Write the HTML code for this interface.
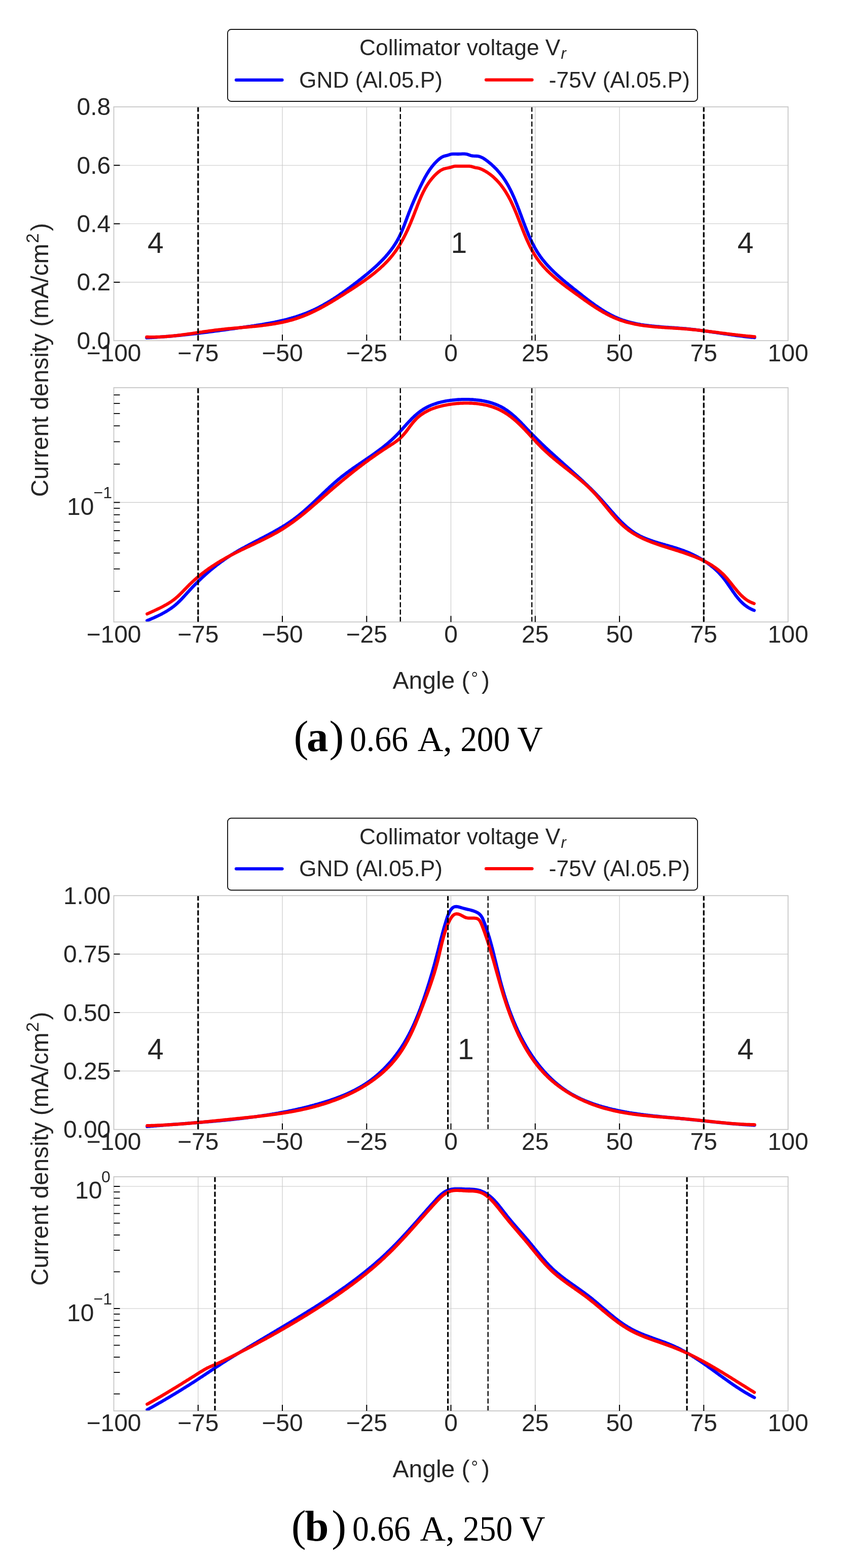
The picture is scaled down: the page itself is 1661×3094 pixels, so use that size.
<!DOCTYPE html>
<html><head><meta charset="utf-8"><title>Current density vs angle</title>
<style>
html,body{margin:0;padding:0;background:#fff;}
body{width:1661px;height:3094px;overflow:hidden;}
svg{display:block;}
.t{font-family:"Liberation Sans", Arial, Helvetica, sans-serif;font-size:48px;fill:#262626;}
.lg{font-family:"Liberation Sans", Arial, Helvetica, sans-serif;font-size:44.3px;fill:#262626;}
.an{font-family:"Liberation Sans", Arial, Helvetica, sans-serif;font-size:57px;fill:#262626;}
.cp{font-family:"Liberation Serif", "Times New Roman", serif;fill:#000;}
</style></head><body>
<svg xmlns="http://www.w3.org/2000/svg" width="1661" height="3094" viewBox="0 0 1661 3094">
<rect width="1661" height="3094" fill="#fff"/>
<rect x="449" y="58.0" width="927" height="142" rx="7" ry="7" fill="#fff" stroke="#151515" stroke-width="1.9"/>
<text x="709" y="109.2" class="lg">Collimator voltage V<tspan font-style="italic" font-size="31" dx="1" dy="7">r</tspan></text>
<line x1="466" y1="157.8" x2="556.5" y2="157.8" stroke="#0000ff" stroke-width="6.3" stroke-linecap="round"/>
<line x1="959" y1="157.6" x2="1049.5" y2="157.6" stroke="#ff0000" stroke-width="6.3" stroke-linecap="round"/>
<text x="590" y="172.8" class="lg">GND (Al.05.P)</text>
<text x="1082.8" y="172.8" class="lg">-75V (Al.05.P)</text>
<line x1="390.8" y1="210.8" x2="390.8" y2="672.2" stroke="#c8c8c8" stroke-width="1.15"/>
<line x1="557.0" y1="210.8" x2="557.0" y2="672.2" stroke="#c8c8c8" stroke-width="1.15"/>
<line x1="723.3" y1="210.8" x2="723.3" y2="672.2" stroke="#c8c8c8" stroke-width="1.15"/>
<line x1="889.5" y1="210.8" x2="889.5" y2="672.2" stroke="#c8c8c8" stroke-width="1.15"/>
<line x1="1055.8" y1="210.8" x2="1055.8" y2="672.2" stroke="#c8c8c8" stroke-width="1.15"/>
<line x1="1222.1" y1="210.8" x2="1222.1" y2="672.2" stroke="#c8c8c8" stroke-width="1.15"/>
<line x1="1388.3" y1="210.8" x2="1388.3" y2="672.2" stroke="#c8c8c8" stroke-width="1.15"/>
<line x1="224.5" y1="556.9" x2="1554.6" y2="556.9" stroke="#c8c8c8" stroke-width="1.15"/>
<line x1="224.5" y1="441.5" x2="1554.6" y2="441.5" stroke="#c8c8c8" stroke-width="1.15"/>
<line x1="224.5" y1="326.2" x2="1554.6" y2="326.2" stroke="#c8c8c8" stroke-width="1.15"/>
<path d="M289.4,666.5L291.7,666.4 294.0,666.3 296.3,666.2 298.6,666.1 300.9,665.9 303.2,665.8 305.5,665.7 307.8,665.5 310.1,665.4 312.4,665.2 314.7,665.1 317.0,664.9 319.3,664.7 321.5,664.6 323.8,664.4 326.1,664.2 328.4,664.0 330.7,663.9 332.9,663.7 335.2,663.5 337.5,663.3 339.8,663.1 342.1,662.9 344.3,662.7 346.6,662.5 348.9,662.2 351.1,662.0 353.4,661.8 355.7,661.6 358.0,661.3 360.2,661.1 362.5,660.9 364.8,660.6 367.0,660.4 369.3,660.2 371.6,659.9 373.8,659.7 376.1,659.4 378.4,659.1 380.6,658.9 382.9,658.6 385.1,658.4 387.4,658.1 389.7,657.8 391.9,657.6 394.2,657.3 396.5,657.0 398.7,656.7 401.0,656.4 403.2,656.2 405.5,655.9 407.8,655.6 410.0,655.3 412.3,655.0 414.5,654.7 416.8,654.4 419.1,654.1 421.3,653.8 423.6,653.5 425.8,653.2 428.1,652.9 430.4,652.6 432.6,652.3 434.9,652.0 437.2,651.7 439.4,651.4 441.7,651.1 443.9,650.8 446.2,650.5 448.5,650.1 450.7,649.8 453.0,649.5 455.3,649.2 457.5,648.9 459.8,648.6 462.1,648.3 464.3,647.9 466.6,647.6 468.9,647.3 471.2,647.0 473.4,646.7 475.7,646.3 478.0,646.0 480.3,645.7 482.5,645.4 484.8,645.1 487.1,644.7 489.4,644.4 491.6,644.1 493.9,643.8 496.2,643.4 498.5,643.1 500.7,642.8 503.0,642.4 505.3,642.1 507.6,641.7 509.8,641.4 512.1,641.0 514.4,640.6 516.6,640.3 518.9,639.9 521.2,639.5 523.4,639.1 525.7,638.7 528.0,638.3 530.2,637.9 532.5,637.5 534.7,637.1 537.0,636.7 539.2,636.2 541.5,635.8 543.7,635.3 545.9,634.8 548.2,634.4 550.4,633.9 552.6,633.4 554.9,632.9 557.1,632.4 559.3,631.8 561.5,631.3 563.7,630.7 565.9,630.2 568.1,629.6 570.3,629.0 572.5,628.4 574.7,627.8 576.9,627.1 579.1,626.5 581.2,625.8 583.4,625.2 585.5,624.5 587.7,623.8 589.9,623.1 592.0,622.3 594.1,621.6 596.3,620.8 598.4,620.0 600.5,619.2 602.6,618.4 604.7,617.6 606.8,616.7 608.9,615.9 611.0,615.0 613.1,614.1 615.1,613.1 617.2,612.2 619.2,611.2 621.3,610.3 623.3,609.3 625.4,608.2 627.4,607.2 629.4,606.2 631.4,605.1 633.4,604.1 635.4,603.0 637.4,601.9 639.4,600.7 641.4,599.6 643.4,598.5 645.4,597.3 647.3,596.1 649.3,595.0 651.2,593.8 653.2,592.6 655.1,591.3 657.1,590.1 659.0,588.9 660.9,587.6 662.9,586.4 664.8,585.1 666.7,583.8 668.6,582.5 670.5,581.2 672.4,579.9 674.3,578.6 676.2,577.3 678.1,575.9 680.0,574.6 681.8,573.2 683.7,571.9 685.6,570.5 687.4,569.1 689.3,567.8 691.2,566.4 693.0,565.0 694.9,563.6 696.7,562.2 698.5,560.8 700.4,559.4 702.2,558.0 704.0,556.6 705.9,555.2 707.7,553.7 709.5,552.3 711.3,550.9 713.1,549.5 714.9,548.0 716.8,546.6 718.6,545.2 720.3,543.7 722.1,542.3 723.9,540.8 725.7,539.3 727.4,537.9 729.2,536.4 730.9,534.9 732.7,533.4 734.4,531.9 736.1,530.4 737.8,528.9 739.5,527.4 741.2,525.9 742.9,524.3 744.5,522.8 746.2,521.2 747.8,519.6 749.4,518.0 751.0,516.4 752.6,514.8 754.2,513.2 755.8,511.6 757.3,509.9 758.8,508.3 760.4,506.6 761.8,504.9 763.3,503.2 764.8,501.5 766.2,499.8 767.6,498.1 769.0,496.3 770.4,494.5 771.8,492.7 773.1,490.9 774.4,489.1 775.7,487.3 777.0,485.4 778.2,483.5 779.4,481.6 780.6,479.7 781.8,477.8 783.0,475.8 784.1,473.8 785.2,471.8 786.3,469.8 787.3,467.8 788.3,465.7 789.3,463.7 790.3,461.6 791.3,459.5 792.2,457.3 793.1,455.2 794.0,453.1 794.9,450.9 795.8,448.7 796.6,446.6 797.5,444.4 798.3,442.2 799.1,440.0 800.0,437.8 800.8,435.6 801.6,433.4 802.4,431.3 803.2,429.1 804.0,426.9 804.9,424.7 805.7,422.6 806.5,420.4 807.3,418.3 808.2,416.1 809.0,414.0 809.9,411.9 810.7,409.8 811.6,407.6 812.4,405.5 813.3,403.5 814.2,401.4 815.1,399.3 816.0,397.2 816.9,395.1 817.8,393.1 818.7,391.0 819.6,388.9 820.5,386.9 821.4,384.8 822.4,382.8 823.3,380.7 824.3,378.7 825.2,376.6 826.2,374.6 827.2,372.5 828.1,370.5 829.1,368.4 830.1,366.4 831.1,364.3 832.1,362.3 833.1,360.2 834.2,358.2 835.2,356.1 836.3,354.1 837.3,352.1 838.4,350.1 839.5,348.1 840.7,346.1 841.8,344.1 843.0,342.1 844.2,340.2 845.4,338.3 846.7,336.4 847.9,334.5 849.3,332.6 850.6,330.8 852.0,328.9 853.4,327.2 854.9,325.4 856.3,323.7 857.9,322.0 859.5,320.3 861.1,318.7 862.7,317.1 864.4,315.5 866.2,314.0 868.0,312.6 869.9,311.2 871.8,310.0 873.8,309.0 875.8,308.2 878.0,307.6 880.1,307.1 882.3,306.6 884.4,305.9 886.6,305.2 888.7,304.5 890.9,304.1 893.1,303.9 895.4,303.8 897.7,303.8 899.9,303.9 902.2,304.0 904.6,304.0 906.9,303.9 909.2,303.8 911.5,303.7 913.8,303.6 916.1,303.6 918.3,303.8 920.5,304.1 922.7,304.7 924.8,305.5 926.9,306.3 929.0,307.0 931.2,307.5 933.5,307.7 935.7,307.8 938.0,307.8 940.3,308.0 942.6,308.2 944.8,308.6 946.9,309.3 949.1,310.1 951.1,311.0 953.1,312.1 955.1,313.3 957.0,314.6 959.0,316.0 960.8,317.4 962.7,318.8 964.5,320.3 966.2,321.7 968.0,323.2 969.7,324.7 971.4,326.3 973.1,327.8 974.7,329.4 976.3,331.0 977.9,332.6 979.5,334.2 981.0,335.9 982.5,337.6 983.9,339.2 985.4,341.0 986.8,342.7 988.2,344.4 989.5,346.2 990.9,348.0 992.2,349.8 993.5,351.7 994.7,353.5 996.0,355.4 997.2,357.3 998.4,359.2 999.5,361.1 1000.7,363.0 1001.8,365.0 1002.9,366.9 1004.0,368.9 1005.0,370.9 1006.1,372.9 1007.1,375.0 1008.1,377.0 1009.1,379.0 1010.1,381.1 1011.0,383.2 1012.0,385.3 1012.9,387.3 1013.9,389.4 1014.8,391.6 1015.7,393.7 1016.6,395.8 1017.4,397.9 1018.3,400.1 1019.2,402.2 1020.0,404.4 1020.9,406.5 1021.7,408.7 1022.5,410.9 1023.4,413.0 1024.2,415.2 1025.0,417.4 1025.8,419.6 1026.6,421.8 1027.5,423.9 1028.3,426.1 1029.1,428.3 1029.9,430.5 1030.7,432.7 1031.5,434.9 1032.3,437.0 1033.1,439.2 1034.0,441.4 1034.8,443.6 1035.6,445.7 1036.5,447.9 1037.3,450.1 1038.2,452.2 1039.0,454.4 1039.9,456.5 1040.8,458.6 1041.6,460.8 1042.5,462.9 1043.4,465.0 1044.4,467.1 1045.3,469.2 1046.2,471.3 1047.2,473.4 1048.2,475.4 1049.1,477.5 1050.1,479.5 1051.2,481.5 1052.2,483.5 1053.3,485.5 1054.3,487.5 1055.4,489.5 1056.5,491.5 1057.7,493.4 1058.8,495.3 1060.0,497.2 1061.2,499.1 1062.4,501.0 1063.7,502.8 1064.9,504.7 1066.2,506.5 1067.5,508.3 1068.9,510.1 1070.2,511.9 1071.6,513.6 1073.0,515.3 1074.5,517.1 1075.9,518.8 1077.4,520.5 1078.8,522.1 1080.3,523.8 1081.9,525.4 1083.4,527.1 1085.0,528.7 1086.5,530.3 1088.1,531.9 1089.7,533.5 1091.3,535.1 1093.0,536.7 1094.6,538.2 1096.3,539.8 1097.9,541.3 1099.6,542.8 1101.3,544.4 1103.0,545.9 1104.7,547.4 1106.5,548.9 1108.2,550.4 1109.9,551.9 1111.7,553.4 1113.5,554.8 1115.2,556.3 1117.0,557.8 1118.8,559.2 1120.6,560.7 1122.4,562.2 1124.2,563.6 1126.0,565.1 1127.8,566.5 1129.6,568.0 1131.4,569.4 1133.3,570.9 1135.1,572.3 1136.9,573.7 1138.7,575.2 1140.6,576.6 1142.4,578.1 1144.2,579.5 1146.0,581.0 1147.9,582.4 1149.7,583.9 1151.5,585.3 1153.4,586.7 1155.2,588.2 1157.1,589.6 1158.9,591.0 1160.8,592.4 1162.6,593.8 1164.5,595.2 1166.3,596.6 1168.2,597.9 1170.1,599.3 1171.9,600.7 1173.8,602.0 1175.7,603.3 1177.6,604.6 1179.5,605.9 1181.4,607.2 1183.3,608.5 1185.2,609.7 1187.1,611.0 1189.1,612.2 1191.0,613.4 1192.9,614.6 1194.9,615.8 1196.9,616.9 1198.8,618.0 1200.8,619.1 1202.8,620.2 1204.8,621.3 1206.8,622.3 1208.8,623.3 1210.8,624.3 1212.8,625.3 1214.9,626.2 1216.9,627.1 1219.0,628.0 1221.0,628.8 1223.1,629.6 1225.2,630.4 1227.3,631.2 1229.4,631.9 1231.5,632.6 1233.7,633.3 1235.8,634.0 1238.0,634.6 1240.1,635.2 1242.3,635.8 1244.5,636.4 1246.6,636.9 1248.8,637.4 1251.0,637.9 1253.2,638.4 1255.5,638.8 1257.7,639.3 1259.9,639.7 1262.1,640.1 1264.4,640.5 1266.6,640.8 1268.9,641.2 1271.1,641.5 1273.4,641.8 1275.7,642.1 1277.9,642.4 1280.2,642.7 1282.5,643.0 1284.8,643.2 1287.1,643.5 1289.4,643.7 1291.7,643.9 1294.0,644.1 1296.3,644.3 1298.6,644.5 1300.9,644.7 1303.2,644.9 1305.5,645.1 1307.8,645.3 1310.1,645.5 1312.4,645.6 1314.8,645.8 1317.1,645.9 1319.4,646.1 1321.7,646.3 1324.0,646.4 1326.3,646.6 1328.6,646.7 1331.0,646.9 1333.3,647.1 1335.6,647.2 1337.9,647.4 1340.2,647.6 1342.5,647.8 1344.8,647.9 1347.1,648.1 1349.4,648.3 1351.7,648.5 1353.9,648.7 1356.2,649.0 1358.5,649.2 1360.8,649.4 1363.1,649.7 1365.3,649.9 1367.6,650.2 1369.9,650.4 1372.1,650.7 1374.4,651.0 1376.6,651.3 1378.9,651.5 1381.1,651.8 1383.4,652.1 1385.6,652.4 1387.9,652.7 1390.1,653.0 1392.4,653.3 1394.6,653.7 1396.9,654.0 1399.1,654.3 1401.4,654.6 1403.6,654.9 1405.8,655.3 1408.1,655.6 1410.3,655.9 1412.6,656.2 1414.8,656.6 1417.0,656.9 1419.3,657.2 1421.5,657.6 1423.8,657.9 1426.0,658.2 1428.3,658.6 1430.5,658.9 1432.7,659.2 1435.0,659.5 1437.2,659.9 1439.5,660.2 1441.8,660.5 1444.0,660.8 1446.3,661.1 1448.5,661.5 1450.8,661.8 1453.1,662.1 1455.3,662.4 1457.6,662.7 1459.9,662.9 1462.1,663.2 1464.4,663.5 1466.7,663.8 1469.0,664.1 1471.3,664.3 1473.6,664.6 1475.9,664.8 1478.2,665.1 1480.5,665.3 1482.8,665.5 1485.1,665.7 1487.4,666.0 1488.6,666.1" fill="none" stroke="#0000ff" stroke-width="6.3" stroke-linecap="round" stroke-linejoin="round"/>
<path d="M289.5,665.0L291.8,665.0 294.2,665.1 296.5,665.1 298.8,665.1 301.1,665.1 303.4,665.1 305.6,665.1 307.9,665.0 310.2,664.9 312.5,664.9 314.7,664.8 317.0,664.7 319.2,664.6 321.5,664.4 323.7,664.3 326.0,664.1 328.2,664.0 330.4,663.8 332.7,663.6 334.9,663.4 337.1,663.2 339.3,663.0 341.5,662.8 343.7,662.5 345.9,662.3 348.1,662.1 350.3,661.8 352.5,661.5 354.7,661.3 356.9,661.0 359.1,660.7 361.3,660.4 363.5,660.1 365.7,659.8 367.9,659.5 370.1,659.2 372.3,658.9 374.5,658.6 376.6,658.3 378.8,658.0 381.0,657.7 383.2,657.3 385.4,657.0 387.6,656.7 389.7,656.4 391.9,656.0 394.1,655.7 396.3,655.4 398.5,655.1 400.7,654.7 402.9,654.4 405.1,654.1 407.3,653.8 409.5,653.5 411.7,653.2 413.9,652.9 416.1,652.6 418.3,652.3 420.5,652.0 422.7,651.7 424.9,651.4 427.1,651.1 429.3,650.9 431.6,650.6 433.8,650.3 436.0,650.1 438.3,649.8 440.5,649.6 442.7,649.4 445.0,649.1 447.2,648.9 449.5,648.7 451.7,648.5 454.0,648.3 456.2,648.1 458.5,647.9 460.8,647.7 463.0,647.5 465.3,647.3 467.5,647.1 469.8,646.9 472.1,646.7 474.3,646.5 476.6,646.3 478.9,646.1 481.1,645.9 483.4,645.7 485.7,645.5 487.9,645.3 490.2,645.1 492.5,644.9 494.7,644.7 497.0,644.5 499.3,644.2 501.5,644.0 503.8,643.8 506.0,643.6 508.3,643.3 510.6,643.1 512.8,642.8 515.1,642.6 517.3,642.3 519.6,642.0 521.8,641.7 524.0,641.5 526.3,641.2 528.5,640.9 530.7,640.5 533.0,640.2 535.2,639.9 537.4,639.5 539.6,639.2 541.8,638.8 544.0,638.4 546.2,638.0 548.4,637.6 550.6,637.2 552.8,636.8 555.0,636.3 557.2,635.9 559.3,635.4 561.5,634.9 563.7,634.4 565.8,633.9 568.0,633.4 570.1,632.8 572.2,632.3 574.4,631.7 576.5,631.1 578.6,630.5 580.7,629.8 582.8,629.2 584.9,628.5 587.0,627.8 589.1,627.1 591.1,626.4 593.2,625.6 595.2,624.9 597.3,624.1 599.3,623.3 601.4,622.4 603.4,621.6 605.4,620.8 607.4,619.9 609.5,619.0 611.5,618.1 613.5,617.2 615.5,616.3 617.4,615.3 619.4,614.4 621.4,613.4 623.4,612.4 625.4,611.5 627.3,610.5 629.3,609.4 631.2,608.4 633.2,607.4 635.1,606.3 637.1,605.3 639.0,604.2 641.0,603.1 642.9,602.0 644.8,600.9 646.8,599.8 648.7,598.7 650.6,597.5 652.6,596.4 654.5,595.3 656.4,594.1 658.3,593.0 660.2,591.8 662.2,590.6 664.1,589.4 666.0,588.3 667.9,587.1 669.8,585.9 671.7,584.7 673.6,583.5 675.6,582.3 677.5,581.1 679.4,579.8 681.3,578.6 683.2,577.4 685.1,576.2 687.0,575.0 688.9,573.7 690.9,572.5 692.8,571.3 694.7,570.0 696.6,568.8 698.5,567.5 700.4,566.3 702.3,565.0 704.2,563.8 706.1,562.5 708.0,561.2 709.9,560.0 711.7,558.7 713.6,557.4 715.5,556.1 717.3,554.8 719.2,553.5 721.0,552.2 722.9,550.8 724.7,549.5 726.5,548.2 728.3,546.8 730.1,545.4 731.9,544.1 733.7,542.7 735.5,541.3 737.2,539.9 739.0,538.5 740.7,537.1 742.4,535.6 744.2,534.2 745.9,532.7 747.5,531.3 749.2,529.8 750.9,528.3 752.5,526.8 754.1,525.3 755.8,523.8 757.3,522.2 758.9,520.7 760.5,519.1 762.0,517.5 763.6,515.9 765.1,514.3 766.6,512.7 768.0,511.1 769.5,509.4 770.9,507.8 772.3,506.1 773.7,504.4 775.1,502.6 776.4,500.9 777.7,499.2 779.1,497.4 780.3,495.6 781.6,493.8 782.8,492.0 784.1,490.2 785.3,488.3 786.5,486.5 787.6,484.6 788.8,482.7 789.9,480.8 791.0,478.9 792.1,477.0 793.2,475.0 794.3,473.1 795.3,471.1 796.4,469.2 797.4,467.2 798.4,465.2 799.4,463.2 800.4,461.2 801.3,459.2 802.3,457.2 803.3,455.1 804.2,453.1 805.1,451.1 806.0,449.0 806.9,447.0 807.8,444.9 808.7,442.8 809.6,440.8 810.5,438.7 811.3,436.6 812.2,434.5 813.0,432.4 813.9,430.3 814.7,428.2 815.6,426.1 816.4,424.0 817.2,421.9 818.0,419.8 818.8,417.7 819.6,415.6 820.5,413.5 821.3,411.4 822.1,409.3 822.9,407.2 823.7,405.1 824.5,403.0 825.4,400.9 826.2,398.9 827.0,396.8 827.9,394.7 828.8,392.7 829.6,390.6 830.5,388.6 831.4,386.5 832.4,384.5 833.3,382.5 834.3,380.5 835.2,378.5 836.3,376.6 837.3,374.6 838.3,372.6 839.4,370.7 840.5,368.8 841.6,366.9 842.8,365.0 844.0,363.2 845.2,361.3 846.5,359.5 847.8,357.7 849.1,356.0 850.5,354.2 851.9,352.5 853.3,350.8 854.8,349.1 856.3,347.4 857.9,345.8 859.5,344.2 861.2,342.6 862.9,341.1 864.6,339.6 866.5,338.2 868.3,336.9 870.2,335.7 872.2,334.7 874.2,333.8 876.3,333.0 878.5,332.5 880.6,332.0 882.8,331.5 885.0,331.1 887.2,330.6 889.4,330.1 891.5,329.4 893.6,328.8 895.8,328.2 897.9,327.9 900.1,327.8 902.4,327.8 904.6,327.8 906.9,327.9 909.1,327.9 911.3,327.9 913.6,327.9 915.8,327.9 918.1,327.9 920.3,327.8 922.6,327.8 924.8,327.8 927.0,328.0 929.2,328.3 931.3,328.9 933.4,329.6 935.5,330.3 937.7,330.8 939.9,331.1 942.1,331.4 944.2,331.8 946.3,332.5 948.4,333.3 950.4,334.2 952.5,335.1 954.4,336.1 956.4,337.2 958.3,338.3 960.2,339.5 962.1,340.7 963.9,342.0 965.7,343.3 967.5,344.6 969.3,346.0 971.0,347.4 972.7,348.8 974.3,350.3 976.0,351.8 977.5,353.4 979.1,354.9 980.6,356.5 982.1,358.1 983.6,359.7 985.0,361.4 986.4,363.0 987.8,364.7 989.1,366.5 990.4,368.2 991.7,370.0 993.0,371.7 994.2,373.5 995.5,375.4 996.7,377.2 997.8,379.0 999.0,380.9 1000.1,382.8 1001.2,384.7 1002.3,386.6 1003.4,388.5 1004.4,390.5 1005.5,392.5 1006.5,394.4 1007.5,396.4 1008.5,398.4 1009.4,400.4 1010.4,402.4 1011.3,404.5 1012.2,406.5 1013.2,408.6 1014.1,410.6 1015.0,412.7 1015.8,414.8 1016.7,416.8 1017.6,418.9 1018.5,421.0 1019.3,423.1 1020.2,425.2 1021.0,427.3 1021.8,429.5 1022.7,431.6 1023.5,433.7 1024.3,435.8 1025.2,437.9 1026.0,440.1 1026.8,442.2 1027.6,444.3 1028.5,446.4 1029.3,448.5 1030.1,450.7 1031.0,452.8 1031.8,454.9 1032.6,457.0 1033.5,459.1 1034.3,461.2 1035.2,463.3 1036.1,465.4 1036.9,467.5 1037.8,469.6 1038.7,471.6 1039.6,473.7 1040.6,475.8 1041.5,477.8 1042.4,479.8 1043.4,481.9 1044.4,483.9 1045.3,485.9 1046.3,487.9 1047.4,489.8 1048.4,491.8 1049.4,493.8 1050.5,495.7 1051.6,497.6 1052.7,499.5 1053.8,501.4 1055.0,503.3 1056.2,505.2 1057.4,507.0 1058.6,508.8 1059.8,510.6 1061.1,512.4 1062.4,514.2 1063.7,515.9 1065.1,517.7 1066.4,519.4 1067.8,521.1 1069.2,522.8 1070.6,524.4 1072.1,526.1 1073.6,527.7 1075.1,529.3 1076.6,530.9 1078.1,532.5 1079.6,534.1 1081.2,535.6 1082.8,537.2 1084.4,538.7 1086.0,540.2 1087.6,541.7 1089.3,543.2 1090.9,544.7 1092.6,546.2 1094.3,547.7 1096.0,549.1 1097.7,550.6 1099.4,552.0 1101.2,553.4 1102.9,554.8 1104.7,556.2 1106.4,557.6 1108.2,559.0 1110.0,560.4 1111.8,561.8 1113.6,563.2 1115.4,564.5 1117.2,565.9 1119.0,567.3 1120.9,568.6 1122.7,570.0 1124.5,571.3 1126.4,572.7 1128.2,574.0 1130.0,575.3 1131.9,576.7 1133.7,578.0 1135.6,579.4 1137.4,580.7 1139.3,582.0 1141.1,583.3 1143.0,584.7 1144.8,586.0 1146.7,587.3 1148.5,588.7 1150.4,590.0 1152.2,591.3 1154.1,592.6 1155.9,593.9 1157.8,595.2 1159.6,596.5 1161.5,597.8 1163.3,599.1 1165.2,600.4 1167.1,601.6 1168.9,602.9 1170.8,604.1 1172.7,605.3 1174.6,606.6 1176.5,607.8 1178.4,609.0 1180.3,610.2 1182.2,611.3 1184.1,612.5 1186.0,613.6 1187.9,614.8 1189.8,615.9 1191.7,617.0 1193.7,618.0 1195.6,619.1 1197.6,620.1 1199.5,621.2 1201.5,622.2 1203.5,623.1 1205.4,624.1 1207.4,625.0 1209.4,626.0 1211.4,626.8 1213.4,627.7 1215.5,628.6 1217.5,629.4 1219.5,630.2 1221.6,631.0 1223.6,631.7 1225.7,632.4 1227.8,633.1 1229.9,633.8 1232.0,634.4 1234.1,635.1 1236.2,635.7 1238.3,636.2 1240.4,636.8 1242.6,637.3 1244.7,637.8 1246.9,638.3 1249.1,638.8 1251.2,639.3 1253.4,639.7 1255.6,640.1 1257.8,640.5 1260.0,640.9 1262.2,641.3 1264.4,641.6 1266.6,641.9 1268.8,642.3 1271.0,642.6 1273.2,642.9 1275.5,643.2 1277.7,643.4 1279.9,643.7 1282.2,643.9 1284.4,644.2 1286.7,644.4 1288.9,644.6 1291.2,644.8 1293.4,645.0 1295.7,645.2 1298.0,645.4 1300.2,645.6 1302.5,645.7 1304.8,645.9 1307.0,646.1 1309.3,646.2 1311.6,646.4 1313.8,646.5 1316.1,646.7 1318.4,646.8 1320.6,646.9 1322.9,647.1 1325.2,647.2 1327.5,647.4 1329.7,647.5 1332.0,647.6 1334.2,647.8 1336.5,647.9 1338.8,648.1 1341.0,648.2 1343.3,648.4 1345.5,648.5 1347.8,648.7 1350.0,648.9 1352.3,649.1 1354.5,649.2 1356.7,649.4 1359.0,649.6 1361.2,649.8 1363.4,650.0 1365.6,650.3 1367.9,650.5 1370.1,650.7 1372.3,650.9 1374.5,651.2 1376.7,651.4 1378.9,651.6 1381.1,651.9 1383.3,652.1 1385.5,652.4 1387.7,652.7 1389.9,652.9 1392.1,653.2 1394.3,653.5 1396.5,653.7 1398.7,654.0 1400.9,654.3 1403.1,654.5 1405.3,654.8 1407.5,655.1 1409.7,655.4 1411.8,655.7 1414.0,655.9 1416.2,656.2 1418.4,656.5 1420.6,656.8 1422.8,657.1 1425.0,657.4 1427.2,657.6 1429.4,657.9 1431.6,658.2 1433.8,658.5 1436.0,658.8 1438.2,659.0 1440.4,659.3 1442.6,659.6 1444.8,659.9 1447.1,660.1 1449.3,660.4 1451.5,660.7 1453.7,660.9 1455.9,661.2 1458.2,661.4 1460.4,661.7 1462.6,661.9 1464.9,662.2 1467.1,662.4 1469.4,662.6 1471.6,662.9 1473.9,663.1 1476.1,663.3 1478.4,663.5 1480.7,663.7 1482.9,663.9 1485.2,664.1 1487.5,664.3 1488.6,664.4" fill="none" stroke="#ff0000" stroke-width="6.3" stroke-linecap="round" stroke-linejoin="round"/>
<line x1="390.8" y1="672.2" x2="390.8" y2="210.8" stroke="#000" stroke-width="3.2" stroke-dasharray="10 4.57"/>
<line x1="789.8" y1="672.2" x2="789.8" y2="210.8" stroke="#000" stroke-width="2.4" stroke-dasharray="10 4.57"/>
<line x1="1049.2" y1="672.2" x2="1049.2" y2="210.8" stroke="#000" stroke-width="2.3" stroke-dasharray="10 4.57"/>
<line x1="1388.3" y1="672.2" x2="1388.3" y2="210.8" stroke="#000" stroke-width="3.2" stroke-dasharray="10 4.57"/>
<rect x="224.5" y="210.8" width="1330.1" height="461.4" fill="none" stroke="#c6c6c6" stroke-width="1.8"/>
<line x1="390.8" y1="660.2" x2="390.8" y2="672.2" stroke="#000" stroke-width="2"/>
<line x1="557.0" y1="660.2" x2="557.0" y2="672.2" stroke="#000" stroke-width="2"/>
<line x1="723.3" y1="660.2" x2="723.3" y2="672.2" stroke="#000" stroke-width="2"/>
<line x1="889.5" y1="660.2" x2="889.5" y2="672.2" stroke="#000" stroke-width="2"/>
<line x1="1055.8" y1="660.2" x2="1055.8" y2="672.2" stroke="#000" stroke-width="2"/>
<line x1="1222.1" y1="660.2" x2="1222.1" y2="672.2" stroke="#000" stroke-width="2"/>
<line x1="1388.3" y1="660.2" x2="1388.3" y2="672.2" stroke="#000" stroke-width="2"/>
<line x1="224.5" y1="556.9" x2="236.5" y2="556.9" stroke="#000" stroke-width="2"/>
<line x1="224.5" y1="441.5" x2="236.5" y2="441.5" stroke="#000" stroke-width="2"/>
<line x1="224.5" y1="326.2" x2="236.5" y2="326.2" stroke="#000" stroke-width="2"/>
<text x="224.5" y="712.5" text-anchor="middle" class="t">−100</text>
<text x="390.8" y="712.5" text-anchor="middle" class="t">−75</text>
<text x="557.0" y="712.5" text-anchor="middle" class="t">−50</text>
<text x="723.3" y="712.5" text-anchor="middle" class="t">−25</text>
<text x="889.5" y="712.5" text-anchor="middle" class="t">0</text>
<text x="1055.8" y="712.5" text-anchor="middle" class="t">25</text>
<text x="1222.1" y="712.5" text-anchor="middle" class="t">50</text>
<text x="1388.3" y="712.5" text-anchor="middle" class="t">75</text>
<text x="1554.6" y="712.5" text-anchor="middle" class="t">100</text>
<text x="291.0" y="499.2" class="an">4</text>
<text x="889.5" y="499.2" class="an">1</text>
<text x="1454.8" y="499.2" class="an">4</text>
<text x="218.3" y="688.7" text-anchor="end" class="t">0.0</text>
<text x="218.3" y="573.4" text-anchor="end" class="t">0.2</text>
<text x="218.3" y="458.0" text-anchor="end" class="t">0.4</text>
<text x="218.3" y="342.7" text-anchor="end" class="t">0.6</text>
<text x="218.3" y="227.3" text-anchor="end" class="t">0.8</text>
<line x1="390.8" y1="765.0" x2="390.8" y2="1227.3" stroke="#c8c8c8" stroke-width="1.15"/>
<line x1="557.0" y1="765.0" x2="557.0" y2="1227.3" stroke="#c8c8c8" stroke-width="1.15"/>
<line x1="723.3" y1="765.0" x2="723.3" y2="1227.3" stroke="#c8c8c8" stroke-width="1.15"/>
<line x1="889.5" y1="765.0" x2="889.5" y2="1227.3" stroke="#c8c8c8" stroke-width="1.15"/>
<line x1="1055.8" y1="765.0" x2="1055.8" y2="1227.3" stroke="#c8c8c8" stroke-width="1.15"/>
<line x1="1222.1" y1="765.0" x2="1222.1" y2="1227.3" stroke="#c8c8c8" stroke-width="1.15"/>
<line x1="1388.3" y1="765.0" x2="1388.3" y2="1227.3" stroke="#c8c8c8" stroke-width="1.15"/>
<line x1="224.5" y1="991.4" x2="1554.6" y2="991.4" stroke="#c8c8c8" stroke-width="1.15"/>
<path d="M290.2,1224.6L292.3,1223.7 294.4,1222.9 296.5,1222.0 298.5,1221.1 300.6,1220.2 302.7,1219.3 304.8,1218.4 306.8,1217.4 308.9,1216.5 311.0,1215.5 313.0,1214.5 315.1,1213.5 317.1,1212.5 319.1,1211.4 321.1,1210.3 323.1,1209.3 325.1,1208.1 327.1,1207.0 329.0,1205.8 330.9,1204.6 332.8,1203.4 334.7,1202.2 336.6,1200.9 338.4,1199.6 340.2,1198.3 342.0,1196.9 343.8,1195.5 345.5,1194.1 347.2,1192.7 348.9,1191.2 350.5,1189.7 352.1,1188.1 353.8,1186.6 355.3,1185.0 356.9,1183.4 358.5,1181.8 360.0,1180.1 361.5,1178.5 363.1,1176.8 364.6,1175.2 366.1,1173.5 367.6,1171.8 369.1,1170.1 370.6,1168.5 372.2,1166.8 373.7,1165.1 375.2,1163.5 376.8,1161.8 378.3,1160.2 379.9,1158.5 381.4,1156.9 383.0,1155.3 384.6,1153.7 386.2,1152.1 387.8,1150.5 389.4,1148.9 391.0,1147.3 392.6,1145.7 394.2,1144.1 395.8,1142.6 397.5,1141.0 399.1,1139.5 400.8,1137.9 402.5,1136.4 404.1,1134.9 405.8,1133.4 407.5,1131.9 409.2,1130.4 410.9,1128.9 412.6,1127.4 414.3,1126.0 416.0,1124.5 417.8,1123.1 419.5,1121.6 421.2,1120.2 423.0,1118.8 424.8,1117.4 426.5,1116.0 428.3,1114.6 430.1,1113.3 431.9,1111.9 433.7,1110.5 435.5,1109.2 437.3,1107.9 439.1,1106.6 441.0,1105.3 442.8,1104.0 444.7,1102.7 446.5,1101.4 448.4,1100.2 450.3,1098.9 452.1,1097.7 454.0,1096.5 455.9,1095.2 457.8,1094.0 459.7,1092.9 461.7,1091.7 463.6,1090.5 465.5,1089.4 467.5,1088.2 469.4,1087.1 471.3,1086.0 473.3,1084.8 475.3,1083.7 477.2,1082.6 479.2,1081.5 481.2,1080.5 483.2,1079.4 485.1,1078.3 487.1,1077.2 489.1,1076.2 491.1,1075.1 493.1,1074.1 495.1,1073.0 497.1,1072.0 499.1,1070.9 501.1,1069.9 503.1,1068.8 505.1,1067.8 507.1,1066.7 509.1,1065.7 511.1,1064.7 513.1,1063.6 515.1,1062.6 517.1,1061.5 519.1,1060.5 521.1,1059.5 523.1,1058.4 525.1,1057.4 527.1,1056.3 529.1,1055.3 531.1,1054.2 533.0,1053.1 535.0,1052.1 537.0,1051.0 539.0,1049.9 540.9,1048.8 542.9,1047.7 544.9,1046.6 546.8,1045.5 548.8,1044.4 550.7,1043.2 552.6,1042.1 554.6,1041.0 556.5,1039.8 558.4,1038.6 560.3,1037.5 562.2,1036.3 564.1,1035.1 566.0,1033.8 567.8,1032.6 569.7,1031.4 571.6,1030.1 573.4,1028.9 575.2,1027.6 577.1,1026.3 578.9,1025.0 580.7,1023.6 582.5,1022.3 584.3,1020.9 586.0,1019.6 587.8,1018.2 589.6,1016.8 591.3,1015.4 593.1,1013.9 594.8,1012.5 596.5,1011.0 598.2,1009.6 599.9,1008.1 601.6,1006.6 603.3,1005.1 605.0,1003.6 606.7,1002.1 608.4,1000.6 610.1,999.1 611.7,997.6 613.4,996.0 615.1,994.5 616.7,992.9 618.4,991.4 620.0,989.8 621.7,988.3 623.3,986.7 625.0,985.1 626.6,983.6 628.3,982.0 629.9,980.4 631.6,978.9 633.2,977.3 634.9,975.7 636.5,974.1 638.2,972.6 639.8,971.0 641.5,969.5 643.1,967.9 644.8,966.3 646.4,964.8 648.1,963.3 649.7,961.7 651.4,960.2 653.1,958.7 654.8,957.1 656.4,955.6 658.1,954.1 659.8,952.6 661.5,951.1 663.2,949.7 665.0,948.2 666.7,946.7 668.4,945.3 670.1,943.9 671.9,942.4 673.6,941.0 675.4,939.6 677.2,938.3 678.9,936.9 680.7,935.5 682.5,934.2 684.3,932.8 686.1,931.5 687.9,930.2 689.7,928.9 691.6,927.5 693.4,926.2 695.2,924.9 697.0,923.7 698.9,922.4 700.7,921.1 702.6,919.8 704.4,918.5 706.3,917.3 708.1,916.0 710.0,914.7 711.8,913.5 713.7,912.2 715.5,911.0 717.4,909.7 719.2,908.4 721.1,907.2 722.9,905.9 724.8,904.6 726.6,903.4 728.5,902.1 730.3,900.8 732.2,899.6 734.0,898.3 735.8,897.0 737.7,895.7 739.5,894.4 741.3,893.1 743.1,891.7 744.9,890.4 746.7,889.1 748.5,887.7 750.3,886.4 752.1,885.0 753.9,883.7 755.7,882.3 757.4,880.9 759.2,879.5 761.0,878.0 762.7,876.6 764.4,875.2 766.2,873.7 767.9,872.2 769.6,870.7 771.3,869.2 772.9,867.7 774.6,866.1 776.3,864.6 777.9,863.0 779.5,861.4 781.2,859.8 782.8,858.1 784.4,856.5 786.0,854.8 787.5,853.1 789.1,851.4 790.7,849.7 792.2,848.0 793.8,846.3 795.3,844.6 796.9,842.9 798.4,841.2 800.0,839.5 801.5,837.7 803.1,836.0 804.6,834.4 806.2,832.7 807.8,831.0 809.4,829.4 810.9,827.7 812.5,826.1 814.1,824.5 815.7,823.0 817.4,821.4 819.0,819.9 820.7,818.5 822.3,817.0 824.0,815.6 825.7,814.2 827.5,812.9 829.2,811.6 831.0,810.3 832.8,809.1 834.6,807.9 836.4,806.8 838.3,805.7 840.2,804.6 842.1,803.6 844.0,802.6 845.9,801.7 847.9,800.8 849.9,799.9 851.9,799.1 853.9,798.3 855.9,797.6 858.0,796.9 860.0,796.2 862.1,795.5 864.2,794.9 866.3,794.3 868.5,793.8 870.6,793.2 872.8,792.7 874.9,792.3 877.1,791.8 879.3,791.4 881.5,791.0 883.7,790.7 886.0,790.4 888.2,790.0 890.5,789.8 892.7,789.5 895.0,789.3 897.3,789.1 899.6,788.9 901.9,788.7 904.2,788.5 906.5,788.4 908.8,788.3 911.1,788.2 913.4,788.2 915.8,788.1 918.1,788.1 920.4,788.1 922.8,788.1 925.1,788.2 927.5,788.3 929.8,788.4 932.1,788.5 934.4,788.7 936.8,788.8 939.1,789.1 941.4,789.3 943.7,789.6 946.0,789.9 948.3,790.2 950.6,790.6 952.8,791.0 955.1,791.4 957.3,791.8 959.6,792.3 961.8,792.9 964.0,793.4 966.2,794.0 968.3,794.6 970.5,795.3 972.6,796.0 974.7,796.7 976.8,797.5 978.9,798.3 981.0,799.2 983.0,800.0 985.0,801.0 987.0,801.9 988.9,802.9 990.9,804.0 992.8,805.1 994.7,806.2 996.5,807.4 998.4,808.6 1000.2,809.8 1002.0,811.1 1003.7,812.4 1005.5,813.7 1007.2,815.1 1008.9,816.4 1010.6,817.9 1012.3,819.3 1014.0,820.8 1015.6,822.2 1017.3,823.7 1018.9,825.3 1020.5,826.8 1022.1,828.4 1023.7,829.9 1025.3,831.5 1026.9,833.1 1028.5,834.7 1030.0,836.4 1031.6,838.0 1033.2,839.6 1034.7,841.3 1036.3,842.9 1037.9,844.6 1039.4,846.2 1041.0,847.9 1042.6,849.5 1044.1,851.1 1045.7,852.8 1047.3,854.4 1048.9,856.0 1050.4,857.7 1052.0,859.3 1053.6,860.9 1055.2,862.5 1056.8,864.1 1058.4,865.7 1060.0,867.3 1061.7,868.9 1063.3,870.5 1064.9,872.1 1066.5,873.6 1068.1,875.2 1069.8,876.8 1071.4,878.3 1073.0,879.9 1074.7,881.4 1076.3,883.0 1078.0,884.5 1079.6,886.1 1081.3,887.6 1082.9,889.1 1084.6,890.7 1086.2,892.2 1087.9,893.7 1089.6,895.2 1091.2,896.7 1092.9,898.2 1094.6,899.7 1096.2,901.2 1097.9,902.7 1099.6,904.2 1101.2,905.7 1102.9,907.2 1104.6,908.7 1106.2,910.2 1107.9,911.7 1109.6,913.2 1111.3,914.7 1112.9,916.2 1114.6,917.7 1116.3,919.1 1118.0,920.6 1119.6,922.1 1121.3,923.6 1123.0,925.1 1124.7,926.6 1126.3,928.1 1128.0,929.6 1129.7,931.1 1131.3,932.5 1133.0,934.0 1134.7,935.5 1136.3,937.0 1138.0,938.5 1139.6,940.1 1141.3,941.6 1142.9,943.1 1144.6,944.6 1146.2,946.1 1147.9,947.6 1149.5,949.2 1151.2,950.7 1152.8,952.2 1154.4,953.8 1156.1,955.3 1157.7,956.9 1159.3,958.4 1160.9,960.0 1162.5,961.6 1164.2,963.1 1165.8,964.7 1167.4,966.3 1169.0,967.9 1170.6,969.5 1172.1,971.1 1173.7,972.7 1175.3,974.3 1176.9,976.0 1178.4,977.6 1180.0,979.3 1181.6,980.9 1183.1,982.6 1184.6,984.2 1186.2,985.9 1187.7,987.6 1189.2,989.3 1190.8,991.0 1192.3,992.7 1193.8,994.5 1195.3,996.2 1196.8,997.9 1198.3,999.6 1199.8,1001.4 1201.3,1003.1 1202.8,1004.8 1204.3,1006.6 1205.8,1008.3 1207.3,1010.0 1208.9,1011.7 1210.4,1013.4 1211.9,1015.1 1213.4,1016.8 1215.0,1018.5 1216.5,1020.2 1218.0,1021.8 1219.6,1023.5 1221.1,1025.1 1222.7,1026.8 1224.3,1028.4 1225.9,1030.0 1227.5,1031.5 1229.1,1033.1 1230.7,1034.6 1232.4,1036.1 1234.0,1037.6 1235.7,1039.1 1237.4,1040.5 1239.1,1042.0 1240.8,1043.3 1242.5,1044.7 1244.3,1046.1 1246.0,1047.4 1247.8,1048.6 1249.6,1049.9 1251.4,1051.1 1253.3,1052.3 1255.2,1053.4 1257.0,1054.5 1259.0,1055.6 1260.9,1056.7 1262.9,1057.7 1264.8,1058.7 1266.8,1059.6 1268.8,1060.5 1270.9,1061.4 1272.9,1062.3 1275.0,1063.1 1277.1,1064.0 1279.2,1064.8 1281.3,1065.5 1283.4,1066.3 1285.5,1067.0 1287.7,1067.8 1289.8,1068.5 1292.0,1069.2 1294.1,1069.8 1296.3,1070.5 1298.5,1071.2 1300.7,1071.8 1302.9,1072.5 1305.1,1073.1 1307.3,1073.8 1309.5,1074.4 1311.8,1075.0 1314.0,1075.7 1316.2,1076.3 1318.4,1076.9 1320.6,1077.6 1322.8,1078.2 1325.1,1078.8 1327.3,1079.5 1329.5,1080.2 1331.7,1080.8 1333.9,1081.5 1336.1,1082.2 1338.3,1082.9 1340.4,1083.7 1342.6,1084.4 1344.8,1085.2 1346.9,1085.9 1349.1,1086.7 1351.2,1087.6 1353.3,1088.4 1355.4,1089.2 1357.5,1090.1 1359.6,1091.0 1361.7,1091.9 1363.7,1092.8 1365.8,1093.8 1367.8,1094.8 1369.8,1095.8 1371.9,1096.8 1373.9,1097.8 1375.8,1098.8 1377.8,1099.9 1379.8,1101.0 1381.7,1102.1 1383.6,1103.3 1385.5,1104.4 1387.4,1105.6 1389.3,1106.8 1391.2,1108.0 1393.0,1109.3 1394.8,1110.5 1396.6,1111.8 1398.4,1113.1 1400.2,1114.4 1402.0,1115.8 1403.7,1117.2 1405.4,1118.6 1407.1,1120.0 1408.8,1121.5 1410.4,1122.9 1412.1,1124.4 1413.7,1126.0 1415.3,1127.5 1416.9,1129.1 1418.4,1130.7 1419.9,1132.3 1421.4,1134.0 1422.9,1135.6 1424.4,1137.3 1425.8,1139.1 1427.2,1140.8 1428.6,1142.6 1430.0,1144.4 1431.4,1146.2 1432.7,1148.0 1434.0,1149.9 1435.3,1151.7 1436.6,1153.6 1437.9,1155.5 1439.2,1157.4 1440.5,1159.3 1441.8,1161.2 1443.1,1163.0 1444.4,1164.9 1445.6,1166.8 1447.0,1168.7 1448.3,1170.5 1449.6,1172.3 1450.9,1174.2 1452.3,1176.0 1453.7,1177.7 1455.1,1179.5 1456.5,1181.2 1458.0,1182.9 1459.4,1184.6 1460.9,1186.2 1462.5,1187.8 1464.1,1189.4 1465.7,1190.9 1467.3,1192.3 1469.0,1193.7 1470.8,1195.1 1472.6,1196.4 1474.4,1197.7 1476.3,1198.9 1478.2,1200.0 1480.2,1201.1 1482.3,1202.1 1484.4,1203.1 1486.6,1204.0 1487.7,1204.4" fill="none" stroke="#0000ff" stroke-width="6.3" stroke-linecap="round" stroke-linejoin="round"/>
<path d="M290.3,1211.4L292.3,1210.5 294.3,1209.6 296.3,1208.7 298.3,1207.8 300.3,1206.8 302.4,1205.9 304.4,1205.0 306.4,1204.0 308.4,1203.1 310.4,1202.2 312.5,1201.2 314.5,1200.2 316.5,1199.2 318.5,1198.2 320.5,1197.2 322.4,1196.2 324.4,1195.1 326.3,1194.0 328.3,1192.9 330.2,1191.8 332.1,1190.7 334.0,1189.5 335.8,1188.3 337.7,1187.1 339.5,1185.8 341.3,1184.5 343.0,1183.2 344.8,1181.9 346.5,1180.5 348.1,1179.0 349.8,1177.6 351.4,1176.1 353.0,1174.6 354.6,1173.1 356.2,1171.5 357.8,1170.0 359.3,1168.4 360.9,1166.8 362.4,1165.2 364.0,1163.6 365.5,1162.0 367.1,1160.4 368.6,1158.8 370.2,1157.2 371.7,1155.7 373.3,1154.1 374.9,1152.5 376.5,1151.0 378.1,1149.5 379.7,1148.0 381.3,1146.5 383.0,1145.0 384.6,1143.5 386.3,1142.1 387.9,1140.6 389.6,1139.2 391.3,1137.8 393.0,1136.3 394.7,1134.9 396.5,1133.6 398.2,1132.2 400.0,1130.8 401.7,1129.5 403.5,1128.2 405.2,1126.8 407.0,1125.5 408.8,1124.2 410.6,1122.9 412.4,1121.7 414.3,1120.4 416.1,1119.2 417.9,1117.9 419.8,1116.7 421.6,1115.5 423.5,1114.3 425.3,1113.1 427.2,1111.9 429.1,1110.7 431.0,1109.5 432.9,1108.4 434.8,1107.2 436.7,1106.1 438.6,1105.0 440.5,1103.9 442.5,1102.8 444.4,1101.7 446.3,1100.6 448.3,1099.5 450.2,1098.4 452.2,1097.4 454.2,1096.3 456.1,1095.3 458.1,1094.3 460.1,1093.2 462.1,1092.2 464.0,1091.2 466.0,1090.2 468.0,1089.2 470.0,1088.2 472.0,1087.2 474.0,1086.3 476.0,1085.3 478.0,1084.3 480.0,1083.4 482.0,1082.4 484.1,1081.4 486.1,1080.5 488.1,1079.5 490.1,1078.6 492.1,1077.6 494.1,1076.7 496.1,1075.7 498.1,1074.8 500.2,1073.8 502.2,1072.9 504.2,1071.9 506.2,1071.0 508.2,1070.0 510.2,1069.1 512.2,1068.1 514.2,1067.1 516.2,1066.2 518.2,1065.2 520.2,1064.2 522.1,1063.2 524.1,1062.2 526.1,1061.2 528.1,1060.2 530.0,1059.2 532.0,1058.2 534.0,1057.2 535.9,1056.2 537.9,1055.1 539.8,1054.1 541.7,1053.0 543.7,1052.0 545.6,1050.9 547.5,1049.8 549.4,1048.7 551.3,1047.6 553.2,1046.4 555.1,1045.3 556.9,1044.2 558.8,1043.0 560.6,1041.8 562.5,1040.6 564.3,1039.4 566.2,1038.2 568.0,1037.0 569.8,1035.7 571.6,1034.5 573.4,1033.2 575.2,1032.0 577.0,1030.7 578.8,1029.4 580.5,1028.1 582.3,1026.8 584.1,1025.5 585.8,1024.1 587.6,1022.8 589.3,1021.4 591.0,1020.1 592.8,1018.7 594.5,1017.3 596.2,1016.0 597.9,1014.6 599.6,1013.2 601.4,1011.8 603.1,1010.4 604.8,1009.0 606.5,1007.5 608.2,1006.1 609.9,1004.7 611.5,1003.3 613.2,1001.8 614.9,1000.4 616.6,998.9 618.3,997.5 620.0,996.0 621.6,994.6 623.3,993.1 625.0,991.7 626.7,990.2 628.3,988.7 630.0,987.3 631.7,985.8 633.3,984.4 635.0,982.9 636.7,981.4 638.4,979.9 640.0,978.5 641.7,977.0 643.4,975.6 645.0,974.1 646.7,972.6 648.4,971.2 650.1,969.7 651.8,968.2 653.4,966.8 655.1,965.3 656.8,963.9 658.5,962.4 660.2,961.0 661.9,959.6 663.6,958.1 665.3,956.7 667.0,955.3 668.7,953.8 670.4,952.4 672.1,951.0 673.8,949.5 675.5,948.1 677.2,946.7 678.9,945.3 680.6,943.9 682.4,942.5 684.1,941.1 685.8,939.7 687.5,938.3 689.2,936.9 691.0,935.5 692.7,934.1 694.4,932.7 696.2,931.4 697.9,930.0 699.7,928.6 701.4,927.3 703.2,925.9 704.9,924.5 706.7,923.2 708.4,921.8 710.2,920.5 711.9,919.2 713.7,917.8 715.5,916.5 717.2,915.2 719.0,913.8 720.8,912.5 722.6,911.2 724.3,909.9 726.1,908.6 727.9,907.3 729.7,906.0 731.5,904.7 733.3,903.4 735.1,902.2 736.9,900.9 738.7,899.6 740.5,898.3 742.3,897.1 744.1,895.8 745.9,894.6 747.7,893.3 749.6,892.1 751.4,890.9 753.2,889.6 755.1,888.4 756.9,887.2 758.7,886.0 760.6,884.8 762.4,883.6 764.3,882.4 766.1,881.2 768.0,880.0 769.8,878.9 771.7,877.7 773.5,876.5 775.3,875.3 777.2,874.0 779.0,872.8 780.8,871.5 782.5,870.2 784.3,868.9 786.0,867.5 787.7,866.1 789.4,864.6 791.0,863.1 792.6,861.5 794.1,859.9 795.7,858.2 797.2,856.5 798.6,854.8 800.1,853.0 801.5,851.2 802.9,849.3 804.3,847.5 805.7,845.6 807.1,843.7 808.4,841.9 809.8,840.0 811.2,838.2 812.6,836.4 814.1,834.6 815.5,832.8 817.0,831.1 818.5,829.5 820.0,827.9 821.5,826.3 823.1,824.8 824.7,823.3 826.4,821.9 828.0,820.6 829.7,819.3 831.5,818.0 833.2,816.8 835.0,815.6 836.8,814.5 838.6,813.4 840.5,812.4 842.3,811.4 844.2,810.4 846.1,809.5 848.1,808.6 850.0,807.7 852.0,806.9 854.0,806.2 856.0,805.4 858.1,804.7 860.1,804.0 862.2,803.4 864.3,802.8 866.4,802.2 868.5,801.7 870.6,801.1 872.8,800.6 874.9,800.2 877.1,799.7 879.3,799.3 881.5,798.9 883.7,798.5 885.9,798.1 888.2,797.8 890.4,797.5 892.6,797.2 894.9,796.9 897.2,796.6 899.4,796.4 901.7,796.2 904.0,796.0 906.2,795.8 908.5,795.7 910.8,795.6 913.1,795.5 915.4,795.4 917.7,795.4 920.0,795.4 922.3,795.4 924.6,795.4 926.8,795.5 929.1,795.5 931.4,795.7 933.7,795.8 936.0,796.0 938.2,796.2 940.5,796.4 942.7,796.7 945.0,796.9 947.2,797.3 949.4,797.6 951.6,798.0 953.8,798.4 956.0,798.8 958.2,799.3 960.4,799.8 962.5,800.3 964.7,800.9 966.8,801.5 968.9,802.1 971.0,802.8 973.1,803.5 975.1,804.2 977.2,805.0 979.2,805.8 981.2,806.7 983.2,807.5 985.1,808.5 987.0,809.4 989.0,810.4 990.9,811.4 992.7,812.5 994.6,813.6 996.4,814.7 998.2,815.8 1000.0,817.0 1001.8,818.2 1003.6,819.4 1005.3,820.7 1007.1,822.0 1008.8,823.3 1010.5,824.7 1012.2,826.0 1013.8,827.4 1015.5,828.8 1017.1,830.2 1018.8,831.7 1020.4,833.2 1022.0,834.6 1023.6,836.1 1025.2,837.7 1026.8,839.2 1028.3,840.7 1029.9,842.3 1031.5,843.9 1033.0,845.5 1034.6,847.1 1036.1,848.7 1037.6,850.3 1039.1,851.9 1040.7,853.5 1042.2,855.2 1043.7,856.8 1045.2,858.5 1046.7,860.1 1048.2,861.8 1049.7,863.4 1051.3,865.1 1052.8,866.7 1054.3,868.3 1055.8,870.0 1057.3,871.6 1058.8,873.3 1060.4,874.9 1061.9,876.5 1063.5,878.1 1065.0,879.7 1066.6,881.3 1068.1,882.9 1069.7,884.4 1071.3,886.0 1072.9,887.5 1074.5,889.0 1076.1,890.5 1077.8,892.0 1079.4,893.5 1081.1,895.0 1082.7,896.5 1084.4,897.9 1086.0,899.4 1087.7,900.8 1089.4,902.2 1091.1,903.7 1092.8,905.1 1094.5,906.5 1096.2,907.9 1097.9,909.3 1099.6,910.7 1101.3,912.1 1103.0,913.4 1104.7,914.8 1106.5,916.2 1108.2,917.6 1109.9,918.9 1111.6,920.3 1113.4,921.7 1115.1,923.0 1116.8,924.4 1118.6,925.7 1120.3,927.1 1122.0,928.5 1123.8,929.8 1125.5,931.2 1127.2,932.6 1128.9,933.9 1130.7,935.3 1132.4,936.7 1134.1,938.1 1135.8,939.5 1137.5,940.9 1139.2,942.3 1140.9,943.7 1142.6,945.1 1144.3,946.5 1146.0,947.9 1147.6,949.4 1149.3,950.8 1151.0,952.3 1152.6,953.7 1154.3,955.2 1155.9,956.7 1157.5,958.2 1159.2,959.7 1160.8,961.2 1162.4,962.8 1164.0,964.3 1165.5,965.9 1167.1,967.4 1168.7,969.0 1170.2,970.6 1171.8,972.3 1173.3,973.9 1174.8,975.5 1176.3,977.2 1177.8,978.9 1179.3,980.6 1180.8,982.3 1182.2,984.0 1183.7,985.7 1185.1,987.4 1186.6,989.2 1188.0,990.9 1189.5,992.7 1190.9,994.4 1192.3,996.2 1193.8,997.9 1195.2,999.7 1196.6,1001.4 1198.1,1003.2 1199.5,1004.9 1200.9,1006.7 1202.4,1008.4 1203.8,1010.1 1205.2,1011.9 1206.7,1013.6 1208.2,1015.3 1209.6,1017.0 1211.1,1018.7 1212.6,1020.3 1214.0,1022.0 1215.5,1023.6 1217.0,1025.3 1218.6,1026.9 1220.1,1028.5 1221.6,1030.1 1223.2,1031.6 1224.7,1033.2 1226.3,1034.7 1227.9,1036.2 1229.5,1037.6 1231.2,1039.1 1232.8,1040.5 1234.5,1041.9 1236.2,1043.3 1237.9,1044.6 1239.6,1045.9 1241.3,1047.2 1243.1,1048.4 1244.9,1049.6 1246.7,1050.8 1248.5,1052.0 1250.3,1053.1 1252.2,1054.3 1254.1,1055.3 1256.0,1056.4 1257.9,1057.5 1259.8,1058.5 1261.7,1059.5 1263.7,1060.5 1265.6,1061.4 1267.6,1062.4 1269.6,1063.3 1271.6,1064.2 1273.6,1065.1 1275.6,1065.9 1277.6,1066.8 1279.7,1067.6 1281.7,1068.4 1283.8,1069.2 1285.9,1070.0 1287.9,1070.8 1290.0,1071.6 1292.1,1072.3 1294.2,1073.1 1296.3,1073.8 1298.4,1074.5 1300.6,1075.3 1302.7,1076.0 1304.8,1076.7 1307.0,1077.4 1309.1,1078.1 1311.2,1078.8 1313.4,1079.4 1315.5,1080.1 1317.7,1080.8 1319.8,1081.5 1322.0,1082.1 1324.1,1082.8 1326.3,1083.5 1328.4,1084.1 1330.5,1084.8 1332.7,1085.5 1334.8,1086.2 1337.0,1086.8 1339.1,1087.5 1341.2,1088.2 1343.4,1088.9 1345.5,1089.6 1347.6,1090.3 1349.7,1091.0 1351.9,1091.7 1354.0,1092.5 1356.1,1093.2 1358.2,1093.9 1360.3,1094.7 1362.3,1095.5 1364.4,1096.2 1366.5,1097.0 1368.5,1097.8 1370.6,1098.6 1372.6,1099.5 1374.6,1100.3 1376.7,1101.2 1378.7,1102.0 1380.7,1102.9 1382.7,1103.8 1384.6,1104.8 1386.6,1105.7 1388.5,1106.7 1390.5,1107.7 1392.4,1108.7 1394.3,1109.7 1396.2,1110.8 1398.1,1111.8 1400.0,1112.9 1401.8,1114.0 1403.7,1115.2 1405.5,1116.4 1407.3,1117.6 1409.1,1118.8 1410.9,1120.0 1412.6,1121.3 1414.3,1122.6 1416.1,1123.9 1417.8,1125.3 1419.4,1126.7 1421.1,1128.1 1422.7,1129.6 1424.4,1131.1 1426.0,1132.6 1427.5,1134.1 1429.1,1135.7 1430.6,1137.4 1432.1,1139.0 1433.6,1140.7 1435.1,1142.4 1436.6,1144.2 1438.0,1145.9 1439.5,1147.7 1440.9,1149.5 1442.3,1151.3 1443.8,1153.1 1445.2,1154.9 1446.6,1156.7 1448.0,1158.5 1449.5,1160.3 1450.9,1162.0 1452.4,1163.8 1453.8,1165.5 1455.3,1167.3 1456.8,1169.0 1458.3,1170.6 1459.8,1172.3 1461.4,1173.9 1462.9,1175.4 1464.5,1176.9 1466.1,1178.4 1467.8,1179.8 1469.5,1181.2 1471.2,1182.5 1473.0,1183.8 1474.8,1185.0 1476.6,1186.1 1478.5,1187.1 1480.5,1188.1 1482.4,1189.0 1484.5,1189.8 1486.6,1190.6 1487.6,1190.9" fill="none" stroke="#ff0000" stroke-width="6.3" stroke-linecap="round" stroke-linejoin="round"/>
<line x1="390.8" y1="1227.3" x2="390.8" y2="765.0" stroke="#000" stroke-width="3.2" stroke-dasharray="10 4.57"/>
<line x1="789.8" y1="1227.3" x2="789.8" y2="765.0" stroke="#000" stroke-width="2.4" stroke-dasharray="10 4.57"/>
<line x1="1049.2" y1="1227.3" x2="1049.2" y2="765.0" stroke="#000" stroke-width="2.3" stroke-dasharray="10 4.57"/>
<line x1="1388.3" y1="1227.3" x2="1388.3" y2="765.0" stroke="#000" stroke-width="3.2" stroke-dasharray="10 4.57"/>
<rect x="224.5" y="765.0" width="1330.1" height="462.3" fill="none" stroke="#c6c6c6" stroke-width="1.8"/>
<line x1="390.8" y1="1215.3" x2="390.8" y2="1227.3" stroke="#000" stroke-width="2"/>
<line x1="557.0" y1="1215.3" x2="557.0" y2="1227.3" stroke="#000" stroke-width="2"/>
<line x1="723.3" y1="1215.3" x2="723.3" y2="1227.3" stroke="#000" stroke-width="2"/>
<line x1="889.5" y1="1215.3" x2="889.5" y2="1227.3" stroke="#000" stroke-width="2"/>
<line x1="1055.8" y1="1215.3" x2="1055.8" y2="1227.3" stroke="#000" stroke-width="2"/>
<line x1="1222.1" y1="1215.3" x2="1222.1" y2="1227.3" stroke="#000" stroke-width="2"/>
<line x1="1388.3" y1="1215.3" x2="1388.3" y2="1227.3" stroke="#000" stroke-width="2"/>
<line x1="224.5" y1="991.4" x2="236.5" y2="991.4" stroke="#000" stroke-width="2"/>
<line x1="224.5" y1="1166.8" x2="236.5" y2="1166.8" stroke="#000" stroke-width="1.8"/>
<line x1="224.5" y1="1122.6" x2="236.5" y2="1122.6" stroke="#000" stroke-width="1.8"/>
<line x1="224.5" y1="1091.3" x2="236.5" y2="1091.3" stroke="#000" stroke-width="1.8"/>
<line x1="224.5" y1="1067.0" x2="236.5" y2="1067.0" stroke="#000" stroke-width="1.8"/>
<line x1="224.5" y1="1047.1" x2="236.5" y2="1047.1" stroke="#000" stroke-width="1.8"/>
<line x1="224.5" y1="1030.3" x2="236.5" y2="1030.3" stroke="#000" stroke-width="1.8"/>
<line x1="224.5" y1="1015.7" x2="236.5" y2="1015.7" stroke="#000" stroke-width="1.8"/>
<line x1="224.5" y1="1002.9" x2="236.5" y2="1002.9" stroke="#000" stroke-width="1.8"/>
<line x1="224.5" y1="915.8" x2="236.5" y2="915.8" stroke="#000" stroke-width="1.8"/>
<line x1="224.5" y1="871.6" x2="236.5" y2="871.6" stroke="#000" stroke-width="1.8"/>
<line x1="224.5" y1="840.3" x2="236.5" y2="840.3" stroke="#000" stroke-width="1.8"/>
<line x1="224.5" y1="816.0" x2="236.5" y2="816.0" stroke="#000" stroke-width="1.8"/>
<line x1="224.5" y1="796.1" x2="236.5" y2="796.1" stroke="#000" stroke-width="1.8"/>
<line x1="224.5" y1="779.3" x2="236.5" y2="779.3" stroke="#000" stroke-width="1.8"/>
<text x="224.5" y="1267.6" text-anchor="middle" class="t">−100</text>
<text x="390.8" y="1267.6" text-anchor="middle" class="t">−75</text>
<text x="557.0" y="1267.6" text-anchor="middle" class="t">−50</text>
<text x="723.3" y="1267.6" text-anchor="middle" class="t">−25</text>
<text x="889.5" y="1267.6" text-anchor="middle" class="t">0</text>
<text x="1055.8" y="1267.6" text-anchor="middle" class="t">25</text>
<text x="1222.1" y="1267.6" text-anchor="middle" class="t">50</text>
<text x="1388.3" y="1267.6" text-anchor="middle" class="t">75</text>
<text x="1554.6" y="1267.6" text-anchor="middle" class="t">100</text>
<text x="132" y="1016" class="t">10</text>
<text x="184.5" y="983" class="t" style="font-size:32px">−1</text>
<text transform="translate(95,980.6) rotate(-90)" x="0" y="0" class="t" style="font-size:47.6px">Current density (mA/cm</text>
<text transform="translate(75.6,479.7) rotate(-90)" x="0" y="0" class="t" style="font-size:35px">2</text>
<text transform="translate(95,455.9) rotate(-90)" x="0" y="0" class="t" style="font-size:47.6px">)</text>
<text x="774.5" y="1358.5" class="t">Angle (</text>
<circle cx="936.2" cy="1330.7" r="3.9" fill="none" stroke="#262626" stroke-width="1.9"/>
<text x="950" y="1358.5" class="t">)</text>
<text x="579.4" y="1482.3" class="cp" font-size="87">(</text>
<text x="605.0" y="1482.3" class="cp" font-size="85" font-weight="bold">a</text>
<text x="649.5" y="1482.3" class="cp" font-size="87">)</text>
<text x="690.0" y="1482.3" class="cp" font-size="70" textLength="115" lengthAdjust="spacingAndGlyphs">0.66</text>
<text x="823.7" y="1482.3" class="cp" font-size="70">A,</text>
<text x="908.2" y="1482.3" class="cp" font-size="70" textLength="98" lengthAdjust="spacingAndGlyphs">200</text>
<text x="1020.2" y="1482.3" class="cp" font-size="70">V</text>
<rect x="449" y="1614.5" width="927" height="142" rx="7" ry="7" fill="#fff" stroke="#151515" stroke-width="1.9"/>
<text x="709" y="1665.7" class="lg">Collimator voltage V<tspan font-style="italic" font-size="31" dx="1" dy="7">r</tspan></text>
<line x1="466" y1="1714.3" x2="556.5" y2="1714.3" stroke="#0000ff" stroke-width="6.3" stroke-linecap="round"/>
<line x1="959" y1="1714.1" x2="1049.5" y2="1714.1" stroke="#ff0000" stroke-width="6.3" stroke-linecap="round"/>
<text x="590" y="1729.3" class="lg">GND (Al.05.P)</text>
<text x="1082.8" y="1729.3" class="lg">-75V (Al.05.P)</text>
<line x1="390.8" y1="1767.3" x2="390.8" y2="2228.7" stroke="#c8c8c8" stroke-width="1.15"/>
<line x1="557.0" y1="1767.3" x2="557.0" y2="2228.7" stroke="#c8c8c8" stroke-width="1.15"/>
<line x1="723.3" y1="1767.3" x2="723.3" y2="2228.7" stroke="#c8c8c8" stroke-width="1.15"/>
<line x1="889.5" y1="1767.3" x2="889.5" y2="2228.7" stroke="#c8c8c8" stroke-width="1.15"/>
<line x1="1055.8" y1="1767.3" x2="1055.8" y2="2228.7" stroke="#c8c8c8" stroke-width="1.15"/>
<line x1="1222.1" y1="1767.3" x2="1222.1" y2="2228.7" stroke="#c8c8c8" stroke-width="1.15"/>
<line x1="1388.3" y1="1767.3" x2="1388.3" y2="2228.7" stroke="#c8c8c8" stroke-width="1.15"/>
<line x1="224.5" y1="2113.3" x2="1554.6" y2="2113.3" stroke="#c8c8c8" stroke-width="1.15"/>
<line x1="224.5" y1="1998.0" x2="1554.6" y2="1998.0" stroke="#c8c8c8" stroke-width="1.15"/>
<line x1="224.5" y1="1882.6" x2="1554.6" y2="1882.6" stroke="#c8c8c8" stroke-width="1.15"/>
<path d="M290.3,2222.9L292.4,2222.7 294.5,2222.5 296.6,2222.3 298.7,2222.2 300.8,2222.0 302.9,2221.8 305.0,2221.7 307.1,2221.5 309.2,2221.3 311.3,2221.1 313.4,2221.0 315.5,2220.8 317.5,2220.7 319.6,2220.5 321.7,2220.3 323.8,2220.2 325.9,2220.0 328.0,2219.8 330.1,2219.7 332.2,2219.5 334.3,2219.4 336.4,2219.2 338.5,2219.0 340.6,2218.9 342.6,2218.7 344.7,2218.6 346.8,2218.4 348.9,2218.3 351.0,2218.1 353.1,2217.9 355.2,2217.8 357.3,2217.6 359.4,2217.5 361.5,2217.3 363.6,2217.1 365.6,2217.0 367.7,2216.8 369.8,2216.7 371.9,2216.5 374.0,2216.4 376.1,2216.2 378.2,2216.0 380.3,2215.9 382.4,2215.7 384.4,2215.5 386.5,2215.4 388.6,2215.2 390.7,2215.1 392.8,2214.9 394.9,2214.7 397.0,2214.5 399.1,2214.4 401.1,2214.2 403.2,2214.0 405.3,2213.9 407.4,2213.7 409.5,2213.5 411.6,2213.3 413.7,2213.2 415.7,2213.0 417.8,2212.8 419.9,2212.6 422.0,2212.4 424.1,2212.3 426.2,2212.1 428.2,2211.9 430.3,2211.7 432.4,2211.5 434.5,2211.3 436.6,2211.1 438.6,2210.9 440.7,2210.7 442.8,2210.5 444.9,2210.3 447.0,2210.1 449.0,2209.9 451.1,2209.7 453.2,2209.5 455.3,2209.3 457.4,2209.0 459.4,2208.8 461.5,2208.6 463.6,2208.4 465.7,2208.1 467.7,2207.9 469.8,2207.7 471.9,2207.5 474.0,2207.2 476.0,2207.0 478.1,2206.7 480.2,2206.5 482.3,2206.2 484.3,2206.0 486.4,2205.7 488.5,2205.5 490.6,2205.2 492.6,2204.9 494.7,2204.7 496.8,2204.4 498.8,2204.1 500.9,2203.9 503.0,2203.6 505.0,2203.3 507.1,2203.0 509.2,2202.7 511.2,2202.4 513.3,2202.1 515.4,2201.8 517.4,2201.5 519.5,2201.2 521.6,2200.9 523.6,2200.6 525.7,2200.3 527.8,2199.9 529.8,2199.6 531.9,2199.3 533.9,2198.9 536.0,2198.6 538.1,2198.2 540.1,2197.9 542.2,2197.5 544.2,2197.2 546.3,2196.8 548.3,2196.5 550.4,2196.1 552.5,2195.7 554.5,2195.3 556.6,2194.9 558.6,2194.6 560.7,2194.2 562.7,2193.8 564.8,2193.4 566.8,2193.0 568.9,2192.5 570.9,2192.1 573.0,2191.7 575.0,2191.3 577.1,2190.8 579.1,2190.4 581.2,2190.0 583.2,2189.5 585.3,2189.0 587.3,2188.6 589.4,2188.1 591.4,2187.7 593.4,2187.2 595.5,2186.7 597.5,2186.2 599.6,2185.7 601.6,2185.2 603.6,2184.7 605.7,2184.2 607.7,2183.7 609.8,2183.2 611.8,2182.6 613.8,2182.1 615.9,2181.6 617.9,2181.0 619.9,2180.5 622.0,2179.9 624.0,2179.3 626.0,2178.8 628.1,2178.2 630.1,2177.6 632.1,2177.0 634.1,2176.4 636.2,2175.8 638.2,2175.2 640.2,2174.6 642.2,2174.0 644.2,2173.3 646.2,2172.7 648.3,2172.0 650.3,2171.4 652.3,2170.7 654.3,2170.0 656.3,2169.3 658.2,2168.6 660.2,2167.9 662.2,2167.2 664.2,2166.5 666.2,2165.8 668.1,2165.0 670.1,2164.3 672.1,2163.5 674.0,2162.7 676.0,2161.9 677.9,2161.1 679.8,2160.3 681.8,2159.5 683.7,2158.6 685.6,2157.8 687.5,2156.9 689.4,2156.0 691.3,2155.2 693.2,2154.3 695.0,2153.3 696.9,2152.4 698.8,2151.5 700.6,2150.5 702.5,2149.6 704.3,2148.6 706.1,2147.6 707.9,2146.6 709.8,2145.5 711.6,2144.5 713.3,2143.4 715.1,2142.4 716.9,2141.3 718.6,2140.2 720.4,2139.0 722.1,2137.9 723.8,2136.8 725.6,2135.6 727.3,2134.4 729.0,2133.2 730.6,2132.0 732.3,2130.7 734.0,2129.5 735.6,2128.2 737.2,2127.0 738.9,2125.7 740.5,2124.3 742.1,2123.0 743.7,2121.7 745.2,2120.3 746.8,2119.0 748.3,2117.6 749.9,2116.2 751.4,2114.8 752.9,2113.3 754.4,2111.9 755.9,2110.5 757.4,2109.0 758.9,2107.5 760.3,2106.0 761.8,2104.5 763.2,2103.0 764.6,2101.5 766.0,2100.0 767.4,2098.4 768.8,2096.8 770.2,2095.3 771.6,2093.7 772.9,2092.1 774.2,2090.5 775.6,2088.9 776.9,2087.2 778.2,2085.6 779.4,2083.9 780.7,2082.3 782.0,2080.6 783.2,2078.9 784.5,2077.2 785.7,2075.5 786.9,2073.8 788.1,2072.1 789.3,2070.4 790.4,2068.7 791.6,2066.9 792.7,2065.2 793.8,2063.4 795.0,2061.6 796.1,2059.9 797.2,2058.1 798.2,2056.3 799.3,2054.5 800.3,2052.7 801.4,2050.9 802.4,2049.0 803.4,2047.2 804.4,2045.4 805.4,2043.5 806.4,2041.7 807.4,2039.8 808.3,2038.0 809.3,2036.1 810.2,2034.2 811.2,2032.3 812.1,2030.5 813.0,2028.6 813.9,2026.7 814.8,2024.8 815.6,2022.9 816.5,2021.0 817.4,2019.0 818.2,2017.1 819.1,2015.2 819.9,2013.3 820.7,2011.3 821.5,2009.4 822.3,2007.4 823.1,2005.5 823.9,2003.6 824.7,2001.6 825.5,1999.6 826.3,1997.7 827.0,1995.7 827.8,1993.8 828.5,1991.8 829.3,1989.8 830.0,1987.8 830.7,1985.9 831.5,1983.9 832.2,1981.9 832.9,1979.9 833.6,1977.9 834.3,1976.0 835.0,1974.0 835.7,1972.0 836.4,1970.0 837.0,1968.0 837.7,1966.0 838.4,1964.0 839.0,1962.0 839.7,1960.0 840.4,1958.1 841.0,1956.1 841.7,1954.1 842.3,1952.1 842.9,1950.1 843.6,1948.1 844.2,1946.1 844.8,1944.1 845.5,1942.1 846.1,1940.1 846.7,1938.1 847.3,1936.1 847.9,1934.1 848.5,1932.1 849.1,1930.1 849.7,1928.1 850.3,1926.1 850.9,1924.1 851.5,1922.1 852.1,1920.1 852.7,1918.1 853.2,1916.1 853.8,1914.1 854.4,1912.1 854.9,1910.1 855.5,1908.1 856.1,1906.1 856.6,1904.1 857.2,1902.1 857.7,1900.1 858.3,1898.0 858.8,1896.0 859.3,1894.0 859.9,1892.0 860.4,1890.0 860.9,1888.0 861.5,1886.0 862.0,1884.0 862.5,1882.0 863.0,1879.9 863.6,1877.9 864.1,1875.9 864.6,1873.9 865.1,1871.9 865.6,1869.9 866.1,1867.9 866.6,1865.8 867.2,1863.8 867.7,1861.8 868.2,1859.8 868.7,1857.8 869.2,1855.7 869.7,1853.7 870.3,1851.7 870.8,1849.7 871.3,1847.7 871.9,1845.6 872.4,1843.6 872.9,1841.6 873.5,1839.6 874.0,1837.6 874.6,1835.5 875.2,1833.5 875.7,1831.5 876.3,1829.5 876.9,1827.4 877.5,1825.4 878.1,1823.4 878.7,1821.4 879.3,1819.3 879.9,1817.3 880.6,1815.3 881.2,1813.3 881.9,1811.3 882.5,1809.2 883.3,1807.2 884.0,1805.3 884.9,1803.3 885.8,1801.4 886.7,1799.5 887.8,1797.6 888.9,1795.8 890.2,1794.1 891.6,1792.5 893.1,1791.1 895.0,1789.9 897.1,1789.1 899.4,1788.9 901.8,1789.0 903.8,1789.4 905.9,1789.9 908.0,1790.5 910.2,1791.1 912.2,1791.8 914.3,1792.3 916.3,1792.9 918.3,1793.4 920.3,1793.9 922.3,1794.4 924.3,1794.8 926.3,1795.3 928.3,1795.8 930.4,1796.4 932.4,1797.0 934.5,1797.6 936.4,1798.4 938.4,1799.2 940.3,1800.1 942.1,1801.0 943.8,1802.1 945.4,1803.3 947.1,1805.0 948.5,1806.5 949.6,1808.1 950.7,1809.9 951.7,1811.7 952.6,1813.6 953.4,1815.6 954.2,1817.6 955.0,1819.6 955.8,1821.6 956.5,1823.6 957.2,1825.6 958.0,1827.6 958.7,1829.7 959.4,1831.7 960.1,1833.7 960.7,1835.7 961.4,1837.7 962.1,1839.7 962.7,1841.7 963.3,1843.7 963.9,1845.7 964.6,1847.7 965.2,1849.7 965.8,1851.7 966.3,1853.7 966.9,1855.7 967.5,1857.8 968.1,1859.8 968.6,1861.8 969.2,1863.8 969.7,1865.8 970.2,1867.8 970.8,1869.8 971.3,1871.8 971.8,1873.8 972.3,1875.8 972.8,1877.8 973.3,1879.8 973.9,1881.9 974.4,1883.9 974.8,1885.9 975.3,1887.9 975.8,1889.9 976.3,1891.9 976.8,1893.9 977.3,1895.9 977.8,1897.9 978.3,1900.0 978.8,1902.0 979.2,1904.0 979.7,1906.0 980.2,1908.0 980.7,1910.0 981.2,1912.0 981.7,1914.1 982.2,1916.1 982.7,1918.1 983.2,1920.1 983.7,1922.1 984.2,1924.2 984.7,1926.2 985.2,1928.2 985.7,1930.2 986.2,1932.2 986.7,1934.3 987.3,1936.3 987.8,1938.3 988.4,1940.3 988.9,1942.3 989.5,1944.4 990.0,1946.4 990.6,1948.4 991.2,1950.4 991.7,1952.5 992.3,1954.5 992.9,1956.5 993.5,1958.5 994.1,1960.5 994.7,1962.6 995.3,1964.6 996.0,1966.6 996.6,1968.6 997.2,1970.6 997.9,1972.6 998.5,1974.6 999.2,1976.7 999.9,1978.7 1000.5,1980.7 1001.2,1982.7 1001.9,1984.7 1002.6,1986.7 1003.3,1988.7 1004.0,1990.7 1004.7,1992.7 1005.4,1994.6 1006.2,1996.6 1006.9,1998.6 1007.7,2000.6 1008.4,2002.6 1009.2,2004.5 1010.0,2006.5 1010.7,2008.5 1011.5,2010.4 1012.3,2012.4 1013.1,2014.4 1013.9,2016.3 1014.8,2018.3 1015.6,2020.2 1016.4,2022.1 1017.3,2024.1 1018.1,2026.0 1019.0,2027.9 1019.9,2029.9 1020.7,2031.8 1021.6,2033.7 1022.5,2035.6 1023.4,2037.5 1024.4,2039.4 1025.3,2041.3 1026.2,2043.2 1027.2,2045.0 1028.1,2046.9 1029.1,2048.8 1030.1,2050.6 1031.0,2052.5 1032.0,2054.3 1033.0,2056.2 1034.1,2058.0 1035.1,2059.8 1036.1,2061.7 1037.2,2063.5 1038.2,2065.3 1039.3,2067.1 1040.3,2068.9 1041.4,2070.7 1042.5,2072.4 1043.6,2074.2 1044.8,2076.0 1045.9,2077.7 1047.0,2079.5 1048.2,2081.2 1049.3,2082.9 1050.5,2084.7 1051.7,2086.4 1052.9,2088.1 1054.1,2089.8 1055.3,2091.5 1056.5,2093.2 1057.7,2094.8 1059.0,2096.5 1060.3,2098.1 1061.5,2099.8 1062.8,2101.4 1064.1,2103.0 1065.4,2104.7 1066.7,2106.3 1068.1,2107.9 1069.4,2109.4 1070.8,2111.0 1072.1,2112.6 1073.5,2114.1 1074.9,2115.7 1076.3,2117.2 1077.7,2118.7 1079.1,2120.2 1080.6,2121.7 1082.0,2123.2 1083.5,2124.7 1084.9,2126.1 1086.4,2127.6 1087.9,2129.0 1089.4,2130.4 1091.0,2131.8 1092.5,2133.2 1094.0,2134.6 1095.6,2135.9 1097.2,2137.3 1098.8,2138.6 1100.3,2139.9 1102.0,2141.2 1103.6,2142.5 1105.2,2143.8 1106.9,2145.1 1108.5,2146.3 1110.2,2147.5 1111.9,2148.7 1113.6,2149.9 1115.3,2151.1 1117.0,2152.3 1118.7,2153.4 1120.5,2154.5 1122.3,2155.7 1124.0,2156.8 1125.8,2157.8 1127.6,2158.9 1129.4,2159.9 1131.3,2160.9 1133.1,2161.9 1135.0,2162.9 1136.8,2163.9 1138.7,2164.9 1140.6,2165.8 1142.5,2166.7 1144.4,2167.6 1146.3,2168.5 1148.2,2169.4 1150.2,2170.2 1152.1,2171.0 1154.1,2171.9 1156.0,2172.7 1158.0,2173.5 1160.0,2174.2 1162.0,2175.0 1164.0,2175.7 1166.0,2176.5 1168.0,2177.2 1170.0,2177.9 1172.0,2178.6 1174.0,2179.3 1176.0,2179.9 1178.0,2180.6 1180.1,2181.2 1182.1,2181.9 1184.1,2182.5 1186.1,2183.1 1188.2,2183.7 1190.2,2184.2 1192.3,2184.8 1194.3,2185.4 1196.3,2185.9 1198.4,2186.4 1200.4,2187.0 1202.5,2187.5 1204.5,2188.0 1206.5,2188.5 1208.6,2189.0 1210.6,2189.4 1212.7,2189.9 1214.7,2190.4 1216.8,2190.8 1218.8,2191.2 1220.9,2191.7 1222.9,2192.1 1225.0,2192.5 1227.0,2192.9 1229.1,2193.3 1231.1,2193.7 1233.2,2194.1 1235.2,2194.4 1237.3,2194.8 1239.3,2195.1 1241.4,2195.5 1243.4,2195.8 1245.5,2196.2 1247.6,2196.5 1249.6,2196.8 1251.7,2197.1 1253.7,2197.4 1255.8,2197.7 1257.8,2198.0 1259.9,2198.3 1262.0,2198.6 1264.0,2198.9 1266.1,2199.1 1268.2,2199.4 1270.2,2199.7 1272.3,2199.9 1274.4,2200.2 1276.4,2200.4 1278.5,2200.7 1280.6,2200.9 1282.6,2201.2 1284.7,2201.4 1286.8,2201.6 1288.8,2201.9 1290.9,2202.1 1293.0,2202.3 1295.0,2202.5 1297.1,2202.7 1299.2,2202.9 1301.3,2203.2 1303.3,2203.4 1305.4,2203.6 1307.5,2203.8 1309.6,2204.0 1311.6,2204.2 1313.7,2204.4 1315.8,2204.6 1317.9,2204.8 1319.9,2205.0 1322.0,2205.2 1324.1,2205.4 1326.2,2205.6 1328.3,2205.7 1330.3,2205.9 1332.4,2206.1 1334.5,2206.3 1336.6,2206.5 1338.7,2206.7 1340.7,2206.9 1342.8,2207.1 1344.9,2207.3 1347.0,2207.5 1349.1,2207.7 1351.2,2207.9 1353.3,2208.1 1355.3,2208.3 1357.4,2208.5 1359.5,2208.7 1361.6,2209.0 1363.7,2209.2 1365.8,2209.4 1367.9,2209.6 1370.0,2209.8 1372.0,2210.0 1374.1,2210.2 1376.2,2210.5 1378.3,2210.7 1380.4,2210.9 1382.5,2211.1 1384.6,2211.3 1386.7,2211.6 1388.8,2211.8 1390.8,2212.0 1392.9,2212.2 1395.0,2212.4 1397.1,2212.7 1399.2,2212.9 1401.3,2213.1 1403.4,2213.3 1405.5,2213.5 1407.6,2213.8 1409.7,2214.0 1411.7,2214.2 1413.8,2214.4 1415.9,2214.6 1418.0,2214.8 1420.1,2215.0 1422.2,2215.2 1424.3,2215.4 1426.4,2215.6 1428.5,2215.8 1430.6,2216.0 1432.6,2216.2 1434.7,2216.4 1436.8,2216.6 1438.9,2216.8 1441.0,2217.0 1443.1,2217.2 1445.2,2217.4 1447.2,2217.6 1449.3,2217.7 1451.4,2217.9 1453.5,2218.1 1455.6,2218.2 1457.7,2218.4 1459.8,2218.6 1461.8,2218.7 1463.9,2218.9 1466.0,2219.0 1468.1,2219.2 1470.2,2219.3 1472.2,2219.4 1474.3,2219.6 1476.4,2219.7 1478.5,2219.8 1480.6,2219.9 1482.6,2220.0 1484.7,2220.2 1486.8,2220.3 1488.4,2220.3" fill="none" stroke="#0000ff" stroke-width="6.3" stroke-linecap="round" stroke-linejoin="round"/>
<path d="M290.4,2221.2L292.5,2221.2 294.5,2221.1 296.6,2221.1 298.7,2221.0 300.7,2220.9 302.8,2220.9 304.8,2220.8 306.9,2220.7 309.0,2220.6 311.0,2220.5 313.1,2220.5 315.1,2220.4 317.2,2220.3 319.3,2220.2 321.3,2220.1 323.4,2219.9 325.4,2219.8 327.5,2219.7 329.6,2219.6 331.6,2219.5 333.7,2219.4 335.8,2219.2 337.8,2219.1 339.9,2219.0 341.9,2218.8 344.0,2218.7 346.1,2218.6 348.1,2218.4 350.2,2218.3 352.3,2218.1 354.3,2218.0 356.4,2217.8 358.4,2217.6 360.5,2217.5 362.6,2217.3 364.6,2217.2 366.7,2217.0 368.8,2216.8 370.8,2216.7 372.9,2216.5 374.9,2216.3 377.0,2216.1 379.1,2215.9 381.1,2215.8 383.2,2215.6 385.3,2215.4 387.3,2215.2 389.4,2215.0 391.5,2214.8 393.5,2214.6 395.6,2214.5 397.6,2214.3 399.7,2214.1 401.8,2213.9 403.8,2213.7 405.9,2213.5 408.0,2213.3 410.0,2213.1 412.1,2212.9 414.1,2212.7 416.2,2212.5 418.3,2212.2 420.3,2212.0 422.4,2211.8 424.4,2211.6 426.5,2211.4 428.6,2211.2 430.6,2211.0 432.7,2210.8 434.8,2210.6 436.8,2210.4 438.9,2210.2 440.9,2209.9 443.0,2209.7 445.0,2209.5 447.1,2209.3 449.2,2209.1 451.2,2208.9 453.3,2208.7 455.3,2208.5 457.4,2208.3 459.5,2208.0 461.5,2207.8 463.6,2207.6 465.6,2207.4 467.7,2207.2 469.7,2207.0 471.8,2206.8 473.9,2206.6 475.9,2206.4 478.0,2206.2 480.0,2205.9 482.1,2205.7 484.1,2205.5 486.2,2205.3 488.2,2205.1 490.3,2204.9 492.3,2204.7 494.4,2204.5 496.4,2204.2 498.5,2204.0 500.5,2203.8 502.6,2203.6 504.6,2203.4 506.7,2203.1 508.7,2202.9 510.8,2202.7 512.8,2202.4 514.9,2202.2 516.9,2202.0 519.0,2201.7 521.0,2201.5 523.1,2201.2 525.1,2201.0 527.2,2200.7 529.2,2200.5 531.2,2200.2 533.3,2200.0 535.3,2199.7 537.4,2199.4 539.4,2199.2 541.5,2198.9 543.5,2198.6 545.5,2198.3 547.6,2198.0 549.6,2197.7 551.6,2197.4 553.7,2197.1 555.7,2196.8 557.7,2196.5 559.8,2196.2 561.8,2195.9 563.8,2195.5 565.9,2195.2 567.9,2194.9 569.9,2194.5 572.0,2194.2 574.0,2193.8 576.0,2193.4 578.0,2193.1 580.1,2192.7 582.1,2192.3 584.1,2191.9 586.1,2191.5 588.2,2191.1 590.2,2190.7 592.2,2190.3 594.2,2189.9 596.2,2189.4 598.3,2189.0 600.3,2188.5 602.3,2188.1 604.3,2187.6 606.3,2187.2 608.3,2186.7 610.3,2186.2 612.3,2185.7 614.4,2185.2 616.4,2184.7 618.4,2184.1 620.4,2183.6 622.4,2183.1 624.4,2182.5 626.4,2182.0 628.4,2181.4 630.4,2180.8 632.4,2180.2 634.4,2179.6 636.4,2179.0 638.4,2178.4 640.4,2177.8 642.3,2177.2 644.3,2176.5 646.3,2175.9 648.3,2175.2 650.3,2174.5 652.2,2173.8 654.2,2173.1 656.2,2172.4 658.1,2171.7 660.1,2171.0 662.1,2170.3 664.0,2169.5 666.0,2168.8 667.9,2168.0 669.8,2167.2 671.8,2166.5 673.7,2165.7 675.6,2164.9 677.5,2164.0 679.4,2163.2 681.4,2162.4 683.3,2161.5 685.1,2160.7 687.0,2159.8 688.9,2158.9 690.8,2158.0 692.7,2157.1 694.5,2156.2 696.4,2155.3 698.2,2154.3 700.1,2153.4 701.9,2152.4 703.7,2151.5 705.6,2150.5 707.4,2149.5 709.2,2148.5 711.0,2147.5 712.8,2146.4 714.6,2145.4 716.3,2144.3 718.1,2143.3 719.8,2142.2 721.6,2141.1 723.3,2140.0 725.1,2138.9 726.8,2137.8 728.5,2136.7 730.2,2135.5 731.9,2134.3 733.6,2133.2 735.2,2132.0 736.9,2130.8 738.5,2129.6 740.2,2128.4 741.8,2127.1 743.4,2125.9 745.0,2124.6 746.6,2123.4 748.2,2122.1 749.8,2120.8 751.3,2119.5 752.9,2118.1 754.4,2116.8 755.9,2115.5 757.4,2114.1 758.9,2112.7 760.4,2111.3 761.9,2109.9 763.4,2108.5 764.8,2107.1 766.2,2105.7 767.7,2104.2 769.1,2102.7 770.4,2101.3 771.8,2099.8 773.2,2098.3 774.5,2096.7 775.9,2095.2 777.2,2093.7 778.5,2092.1 779.8,2090.5 781.1,2088.9 782.3,2087.3 783.6,2085.7 784.8,2084.1 786.0,2082.4 787.2,2080.8 788.4,2079.1 789.6,2077.4 790.7,2075.7 791.9,2074.0 793.0,2072.3 794.1,2070.5 795.2,2068.8 796.3,2067.0 797.4,2065.2 798.4,2063.5 799.5,2061.7 800.5,2059.9 801.5,2058.0 802.5,2056.2 803.5,2054.4 804.5,2052.6 805.5,2050.7 806.4,2048.8 807.4,2047.0 808.3,2045.1 809.2,2043.2 810.2,2041.3 811.1,2039.4 812.0,2037.5 812.9,2035.6 813.8,2033.7 814.6,2031.8 815.5,2029.9 816.3,2028.0 817.2,2026.0 818.0,2024.1 818.9,2022.1 819.7,2020.2 820.5,2018.3 821.3,2016.3 822.1,2014.4 822.9,2012.4 823.7,2010.5 824.5,2008.5 825.3,2006.5 826.1,2004.6 826.9,2002.6 827.6,2000.7 828.4,1998.7 829.2,1996.8 829.9,1994.8 830.7,1992.9 831.4,1990.9 832.2,1988.9 832.9,1987.0 833.7,1985.1 834.4,1983.1 835.1,1981.2 835.9,1979.2 836.6,1977.3 837.3,1975.4 838.1,1973.4 838.8,1971.5 839.5,1969.6 840.2,1967.7 841.0,1965.7 841.7,1963.8 842.4,1961.9 843.1,1960.0 843.8,1958.1 844.5,1956.2 845.2,1954.2 845.9,1952.3 846.6,1950.4 847.3,1948.5 847.9,1946.6 848.6,1944.7 849.3,1942.7 849.9,1940.8 850.6,1938.9 851.2,1937.0 851.9,1935.0 852.5,1933.1 853.2,1931.2 853.8,1929.3 854.4,1927.3 855.0,1925.4 855.7,1923.4 856.3,1921.5 856.9,1919.5 857.5,1917.6 858.0,1915.6 858.6,1913.7 859.2,1911.7 859.7,1909.7 860.3,1907.8 860.8,1905.8 861.4,1903.8 861.9,1901.8 862.4,1899.8 863.0,1897.8 863.5,1895.8 864.0,1893.8 864.5,1891.8 864.9,1889.8 865.4,1887.7 865.9,1885.7 866.4,1883.7 866.9,1881.6 867.3,1879.6 867.8,1877.6 868.3,1875.5 868.8,1873.5 869.2,1871.5 869.7,1869.4 870.2,1867.4 870.7,1865.3 871.2,1863.3 871.7,1861.3 872.2,1859.3 872.7,1857.2 873.2,1855.2 873.8,1853.2 874.3,1851.2 874.8,1849.2 875.4,1847.2 876.0,1845.2 876.6,1843.2 877.2,1841.2 877.8,1839.3 878.4,1837.3 879.1,1835.3 879.7,1833.4 880.4,1831.5 881.1,1829.5 881.8,1827.6 882.6,1825.7 883.3,1823.8 884.1,1822.0 885.0,1820.1 885.8,1818.2 886.8,1816.4 887.8,1814.6 888.9,1812.8 890.0,1811.0 891.3,1809.2 892.7,1807.5 894.2,1806.0 895.7,1804.8 897.8,1803.7 900.0,1803.2 902.3,1803.3 904.3,1803.7 906.3,1804.4 908.3,1805.2 910.2,1806.2 912.1,1807.2 913.9,1808.3 916.0,1809.4 918.1,1810.4 920.3,1811.0 922.6,1811.4 924.7,1811.6 926.8,1811.6 928.9,1811.6 931.1,1811.6 933.3,1811.6 935.4,1811.6 937.5,1811.8 939.5,1812.1 941.8,1812.8 943.7,1814.0 945.4,1815.5 946.6,1817.2 947.7,1819.0 948.6,1820.9 949.5,1822.8 950.3,1824.8 951.1,1826.7 951.8,1828.7 952.6,1830.6 953.3,1832.6 954.0,1834.5 954.7,1836.5 955.5,1838.4 956.2,1840.4 956.9,1842.3 957.5,1844.3 958.2,1846.2 958.9,1848.2 959.6,1850.1 960.2,1852.1 960.9,1854.0 961.5,1856.0 962.1,1857.9 962.8,1859.9 963.4,1861.9 964.0,1863.8 964.6,1865.8 965.3,1867.7 965.9,1869.7 966.5,1871.6 967.1,1873.6 967.7,1875.6 968.2,1877.5 968.8,1879.5 969.4,1881.5 970.0,1883.4 970.6,1885.4 971.1,1887.3 971.7,1889.3 972.3,1891.3 972.8,1893.2 973.4,1895.2 974.0,1897.2 974.5,1899.1 975.1,1901.1 975.6,1903.1 976.2,1905.1 976.7,1907.0 977.3,1909.0 977.8,1911.0 978.4,1912.9 978.9,1914.9 979.5,1916.9 980.0,1918.9 980.6,1920.8 981.1,1922.8 981.7,1924.8 982.3,1926.8 982.8,1928.8 983.4,1930.7 983.9,1932.7 984.5,1934.7 985.1,1936.7 985.6,1938.7 986.2,1940.6 986.8,1942.6 987.3,1944.6 987.9,1946.6 988.5,1948.6 989.1,1950.6 989.7,1952.5 990.3,1954.5 990.9,1956.5 991.5,1958.5 992.1,1960.5 992.7,1962.5 993.3,1964.5 993.9,1966.5 994.6,1968.5 995.2,1970.5 995.9,1972.5 996.5,1974.4 997.1,1976.4 997.8,1978.4 998.5,1980.4 999.1,1982.4 999.8,1984.4 1000.5,1986.4 1001.2,1988.4 1001.9,1990.4 1002.6,1992.3 1003.3,1994.3 1004.0,1996.3 1004.7,1998.3 1005.4,2000.3 1006.2,2002.2 1006.9,2004.2 1007.7,2006.2 1008.4,2008.1 1009.2,2010.1 1009.9,2012.0 1010.7,2014.0 1011.5,2016.0 1012.3,2017.9 1013.1,2019.8 1013.9,2021.8 1014.7,2023.7 1015.5,2025.7 1016.4,2027.6 1017.2,2029.5 1018.1,2031.4 1018.9,2033.3 1019.8,2035.2 1020.7,2037.1 1021.5,2039.0 1022.4,2040.9 1023.3,2042.8 1024.2,2044.7 1025.2,2046.6 1026.1,2048.4 1027.0,2050.3 1028.0,2052.2 1028.9,2054.0 1029.9,2055.9 1030.9,2057.7 1031.9,2059.5 1032.9,2061.3 1033.9,2063.2 1034.9,2065.0 1035.9,2066.8 1037.0,2068.6 1038.0,2070.3 1039.1,2072.1 1040.1,2073.9 1041.2,2075.6 1042.3,2077.4 1043.4,2079.1 1044.5,2080.9 1045.6,2082.6 1046.8,2084.3 1047.9,2086.0 1049.1,2087.7 1050.3,2089.4 1051.4,2091.0 1052.6,2092.7 1053.8,2094.4 1055.1,2096.0 1056.3,2097.6 1057.5,2099.3 1058.8,2100.9 1060.0,2102.5 1061.3,2104.1 1062.6,2105.6 1063.9,2107.2 1065.2,2108.8 1066.6,2110.3 1067.9,2111.8 1069.3,2113.4 1070.6,2114.9 1072.0,2116.4 1073.4,2117.9 1074.8,2119.3 1076.2,2120.8 1077.7,2122.2 1079.1,2123.7 1080.6,2125.1 1082.1,2126.5 1083.5,2127.9 1085.0,2129.3 1086.6,2130.6 1088.1,2132.0 1089.6,2133.3 1091.2,2134.6 1092.8,2135.9 1094.3,2137.2 1095.9,2138.5 1097.5,2139.8 1099.2,2141.0 1100.8,2142.3 1102.4,2143.5 1104.1,2144.7 1105.8,2145.9 1107.4,2147.1 1109.1,2148.3 1110.8,2149.5 1112.5,2150.6 1114.2,2151.7 1116.0,2152.9 1117.7,2154.0 1119.5,2155.1 1121.2,2156.2 1123.0,2157.2 1124.8,2158.3 1126.5,2159.3 1128.3,2160.3 1130.1,2161.4 1131.9,2162.4 1133.8,2163.3 1135.6,2164.3 1137.4,2165.3 1139.3,2166.2 1141.1,2167.1 1143.0,2168.1 1144.8,2169.0 1146.7,2169.9 1148.6,2170.7 1150.5,2171.6 1152.4,2172.5 1154.3,2173.3 1156.2,2174.1 1158.1,2174.9 1160.0,2175.7 1161.9,2176.5 1163.9,2177.3 1165.8,2178.0 1167.7,2178.8 1169.7,2179.5 1171.6,2180.2 1173.6,2180.9 1175.5,2181.6 1177.5,2182.3 1179.5,2182.9 1181.4,2183.6 1183.4,2184.2 1185.4,2184.9 1187.4,2185.5 1189.3,2186.1 1191.3,2186.6 1193.3,2187.2 1195.3,2187.8 1197.3,2188.3 1199.3,2188.8 1201.3,2189.3 1203.3,2189.8 1205.3,2190.3 1207.3,2190.8 1209.3,2191.3 1211.3,2191.7 1213.3,2192.2 1215.4,2192.6 1217.4,2193.0 1219.4,2193.5 1221.4,2193.9 1223.5,2194.3 1225.5,2194.6 1227.5,2195.0 1229.5,2195.4 1231.6,2195.7 1233.6,2196.1 1235.6,2196.4 1237.7,2196.7 1239.7,2197.1 1241.8,2197.4 1243.8,2197.7 1245.9,2198.0 1247.9,2198.3 1250.0,2198.6 1252.0,2198.8 1254.1,2199.1 1256.1,2199.4 1258.2,2199.6 1260.2,2199.9 1262.3,2200.1 1264.3,2200.3 1266.4,2200.6 1268.5,2200.8 1270.5,2201.0 1272.6,2201.2 1274.6,2201.4 1276.7,2201.6 1278.8,2201.8 1280.8,2202.0 1282.9,2202.2 1285.0,2202.4 1287.0,2202.6 1289.1,2202.8 1291.2,2203.0 1293.2,2203.2 1295.3,2203.3 1297.4,2203.5 1299.4,2203.7 1301.5,2203.8 1303.6,2204.0 1305.7,2204.2 1307.7,2204.3 1309.8,2204.5 1311.9,2204.7 1313.9,2204.8 1316.0,2205.0 1318.1,2205.1 1320.1,2205.3 1322.2,2205.4 1324.3,2205.6 1326.3,2205.8 1328.4,2205.9 1330.5,2206.1 1332.6,2206.3 1334.6,2206.4 1336.7,2206.6 1338.7,2206.7 1340.8,2206.9 1342.9,2207.1 1344.9,2207.3 1347.0,2207.4 1349.1,2207.6 1351.1,2207.8 1353.2,2208.0 1355.2,2208.2 1357.3,2208.4 1359.3,2208.6 1361.4,2208.8 1363.5,2209.0 1365.5,2209.2 1367.6,2209.4 1369.6,2209.6 1371.7,2209.8 1373.7,2210.0 1375.8,2210.2 1377.8,2210.4 1379.9,2210.6 1381.9,2210.8 1384.0,2211.1 1386.0,2211.3 1388.0,2211.5 1390.1,2211.7 1392.1,2211.9 1394.2,2212.2 1396.2,2212.4 1398.3,2212.6 1400.3,2212.8 1402.4,2213.0 1404.4,2213.2 1406.5,2213.5 1408.5,2213.7 1410.6,2213.9 1412.6,2214.1 1414.7,2214.3 1416.7,2214.5 1418.7,2214.7 1420.8,2214.9 1422.8,2215.1 1424.9,2215.3 1426.9,2215.5 1429.0,2215.7 1431.1,2215.9 1433.1,2216.1 1435.2,2216.3 1437.2,2216.4 1439.3,2216.6 1441.3,2216.8 1443.4,2217.0 1445.4,2217.1 1447.5,2217.3 1449.6,2217.4 1451.6,2217.6 1453.7,2217.7 1455.8,2217.9 1457.8,2218.0 1459.9,2218.1 1462.0,2218.3 1464.0,2218.4 1466.1,2218.5 1468.2,2218.6 1470.2,2218.7 1472.3,2218.8 1474.4,2218.9 1476.5,2218.9 1478.6,2219.0 1480.6,2219.1 1482.7,2219.1 1484.8,2219.2 1486.9,2219.2 1488.6,2219.3" fill="none" stroke="#ff0000" stroke-width="6.3" stroke-linecap="round" stroke-linejoin="round"/>
<line x1="390.8" y1="2228.7" x2="390.8" y2="1767.3" stroke="#000" stroke-width="3.2" stroke-dasharray="10 4.57"/>
<line x1="883.6" y1="2228.7" x2="883.6" y2="1767.3" stroke="#000" stroke-width="3.1" stroke-dasharray="10 4.57"/>
<line x1="962.7" y1="2228.7" x2="962.7" y2="1767.3" stroke="#000" stroke-width="2.3" stroke-dasharray="10 4.57"/>
<line x1="1388.3" y1="2228.7" x2="1388.3" y2="1767.3" stroke="#000" stroke-width="3.2" stroke-dasharray="10 4.57"/>
<rect x="224.5" y="1767.3" width="1330.1" height="461.4" fill="none" stroke="#c6c6c6" stroke-width="1.8"/>
<line x1="390.8" y1="2216.7" x2="390.8" y2="2228.7" stroke="#000" stroke-width="2"/>
<line x1="557.0" y1="2216.7" x2="557.0" y2="2228.7" stroke="#000" stroke-width="2"/>
<line x1="723.3" y1="2216.7" x2="723.3" y2="2228.7" stroke="#000" stroke-width="2"/>
<line x1="889.5" y1="2216.7" x2="889.5" y2="2228.7" stroke="#000" stroke-width="2"/>
<line x1="1055.8" y1="2216.7" x2="1055.8" y2="2228.7" stroke="#000" stroke-width="2"/>
<line x1="1222.1" y1="2216.7" x2="1222.1" y2="2228.7" stroke="#000" stroke-width="2"/>
<line x1="1388.3" y1="2216.7" x2="1388.3" y2="2228.7" stroke="#000" stroke-width="2"/>
<line x1="224.5" y1="2113.3" x2="236.5" y2="2113.3" stroke="#000" stroke-width="2"/>
<line x1="224.5" y1="1998.0" x2="236.5" y2="1998.0" stroke="#000" stroke-width="2"/>
<line x1="224.5" y1="1882.6" x2="236.5" y2="1882.6" stroke="#000" stroke-width="2"/>
<text x="224.5" y="2269.0" text-anchor="middle" class="t">−100</text>
<text x="390.8" y="2269.0" text-anchor="middle" class="t">−75</text>
<text x="557.0" y="2269.0" text-anchor="middle" class="t">−50</text>
<text x="723.3" y="2269.0" text-anchor="middle" class="t">−25</text>
<text x="889.5" y="2269.0" text-anchor="middle" class="t">0</text>
<text x="1055.8" y="2269.0" text-anchor="middle" class="t">25</text>
<text x="1222.1" y="2269.0" text-anchor="middle" class="t">50</text>
<text x="1388.3" y="2269.0" text-anchor="middle" class="t">75</text>
<text x="1554.6" y="2269.0" text-anchor="middle" class="t">100</text>
<text x="291.0" y="2090.3" class="an">4</text>
<text x="902.9" y="2090.3" class="an">1</text>
<text x="1454.8" y="2090.3" class="an">4</text>
<text x="218.3" y="2245.2" text-anchor="end" class="t">0.00</text>
<text x="218.3" y="2129.8" text-anchor="end" class="t">0.25</text>
<text x="218.3" y="2014.5" text-anchor="end" class="t">0.50</text>
<text x="218.3" y="1899.1" text-anchor="end" class="t">0.75</text>
<text x="218.3" y="1783.8" text-anchor="end" class="t">1.00</text>
<line x1="390.8" y1="2322.0" x2="390.8" y2="2784.0" stroke="#c8c8c8" stroke-width="1.15"/>
<line x1="557.0" y1="2322.0" x2="557.0" y2="2784.0" stroke="#c8c8c8" stroke-width="1.15"/>
<line x1="723.3" y1="2322.0" x2="723.3" y2="2784.0" stroke="#c8c8c8" stroke-width="1.15"/>
<line x1="889.5" y1="2322.0" x2="889.5" y2="2784.0" stroke="#c8c8c8" stroke-width="1.15"/>
<line x1="1055.8" y1="2322.0" x2="1055.8" y2="2784.0" stroke="#c8c8c8" stroke-width="1.15"/>
<line x1="1222.1" y1="2322.0" x2="1222.1" y2="2784.0" stroke="#c8c8c8" stroke-width="1.15"/>
<line x1="1388.3" y1="2322.0" x2="1388.3" y2="2784.0" stroke="#c8c8c8" stroke-width="1.15"/>
<line x1="224.5" y1="2341.0" x2="1554.6" y2="2341.0" stroke="#c8c8c8" stroke-width="1.15"/>
<line x1="224.5" y1="2582.0" x2="1554.6" y2="2582.0" stroke="#c8c8c8" stroke-width="1.15"/>
<path d="M290.4,2781.8L292.3,2780.8 294.3,2779.7 296.2,2778.6 298.2,2777.5 300.1,2776.4 302.1,2775.3 304.0,2774.2 306.0,2773.1 307.9,2772.0 309.9,2770.8 311.8,2769.7 313.8,2768.6 315.7,2767.5 317.6,2766.4 319.6,2765.3 321.5,2764.1 323.4,2763.0 325.4,2761.9 327.3,2760.7 329.2,2759.6 331.1,2758.5 333.1,2757.3 335.0,2756.2 336.9,2755.0 338.8,2753.9 340.7,2752.7 342.7,2751.6 344.6,2750.4 346.5,2749.3 348.4,2748.1 350.3,2747.0 352.2,2745.8 354.1,2744.6 356.0,2743.5 357.9,2742.3 359.8,2741.1 361.7,2739.9 363.6,2738.7 365.5,2737.6 367.4,2736.4 369.3,2735.2 371.2,2734.0 373.1,2732.8 374.9,2731.6 376.8,2730.4 378.7,2729.2 380.6,2728.0 382.5,2726.8 384.3,2725.6 386.2,2724.3 388.1,2723.1 390.0,2721.9 391.8,2720.7 393.7,2719.5 395.6,2718.2 397.4,2717.0 399.3,2715.8 401.2,2714.5 403.0,2713.3 404.9,2712.1 406.7,2710.8 408.6,2709.6 410.5,2708.3 412.3,2707.1 414.2,2705.9 416.0,2704.6 417.9,2703.4 419.8,2702.2 421.6,2700.9 423.5,2699.7 425.4,2698.5 427.2,2697.2 429.1,2696.0 431.0,2694.8 432.8,2693.6 434.7,2692.3 436.6,2691.1 438.4,2689.9 440.3,2688.7 442.2,2687.5 444.1,2686.3 446.0,2685.1 447.8,2683.9 449.7,2682.7 451.6,2681.6 453.5,2680.4 455.4,2679.2 457.3,2678.0 459.2,2676.9 461.1,2675.7 463.0,2674.5 464.9,2673.4 466.8,2672.2 468.7,2671.1 470.6,2669.9 472.6,2668.8 474.5,2667.6 476.4,2666.5 478.3,2665.4 480.2,2664.2 482.1,2663.1 484.0,2661.9 486.0,2660.8 487.9,2659.6 489.8,2658.5 491.7,2657.4 493.6,2656.2 495.6,2655.1 497.5,2653.9 499.4,2652.8 501.3,2651.6 503.3,2650.5 505.2,2649.4 507.1,2648.2 509.0,2647.1 510.9,2645.9 512.9,2644.8 514.8,2643.6 516.7,2642.5 518.6,2641.4 520.6,2640.2 522.5,2639.1 524.4,2637.9 526.3,2636.8 528.2,2635.6 530.2,2634.5 532.1,2633.4 534.0,2632.2 535.9,2631.1 537.8,2629.9 539.8,2628.8 541.7,2627.6 543.6,2626.5 545.5,2625.4 547.4,2624.2 549.3,2623.1 551.3,2621.9 553.2,2620.8 555.1,2619.6 557.0,2618.5 558.9,2617.4 560.8,2616.2 562.7,2615.1 564.6,2613.9 566.5,2612.8 568.5,2611.6 570.4,2610.5 572.3,2609.3 574.2,2608.2 576.1,2607.0 578.0,2605.9 579.9,2604.7 581.8,2603.6 583.7,2602.4 585.6,2601.3 587.5,2600.1 589.4,2598.9 591.3,2597.8 593.2,2596.6 595.1,2595.4 597.0,2594.3 598.9,2593.1 600.8,2591.9 602.7,2590.8 604.6,2589.6 606.5,2588.4 608.4,2587.2 610.3,2586.0 612.2,2584.9 614.1,2583.7 616.0,2582.5 617.9,2581.3 619.8,2580.1 621.7,2578.9 623.6,2577.7 625.4,2576.5 627.3,2575.3 629.2,2574.1 631.1,2572.9 633.0,2571.6 634.9,2570.4 636.8,2569.2 638.6,2568.0 640.5,2566.8 642.4,2565.5 644.3,2564.3 646.1,2563.1 648.0,2561.8 649.9,2560.6 651.7,2559.3 653.6,2558.1 655.5,2556.8 657.3,2555.6 659.2,2554.3 661.0,2553.1 662.9,2551.8 664.7,2550.5 666.6,2549.3 668.4,2548.0 670.3,2546.7 672.1,2545.4 674.0,2544.1 675.8,2542.9 677.6,2541.6 679.4,2540.3 681.3,2539.0 683.1,2537.7 684.9,2536.4 686.7,2535.0 688.5,2533.7 690.4,2532.4 692.2,2531.1 694.0,2529.7 695.8,2528.4 697.6,2527.1 699.4,2525.7 701.1,2524.4 702.9,2523.0 704.7,2521.7 706.5,2520.3 708.3,2519.0 710.0,2517.6 711.8,2516.2 713.6,2514.8 715.3,2513.5 717.1,2512.1 718.8,2510.7 720.6,2509.3 722.3,2507.9 724.0,2506.5 725.8,2505.1 727.5,2503.6 729.2,2502.2 730.9,2500.8 732.7,2499.4 734.4,2497.9 736.1,2496.5 737.8,2495.0 739.5,2493.6 741.2,2492.1 742.8,2490.7 744.5,2489.2 746.2,2487.7 747.9,2486.2 749.5,2484.8 751.2,2483.3 752.8,2481.8 754.5,2480.3 756.1,2478.8 757.8,2477.3 759.4,2475.7 761.0,2474.2 762.6,2472.7 764.2,2471.1 765.8,2469.6 767.4,2468.1 769.0,2466.5 770.6,2464.9 772.2,2463.4 773.8,2461.8 775.4,2460.2 776.9,2458.6 778.5,2457.1 780.1,2455.5 781.6,2453.9 783.2,2452.3 784.7,2450.7 786.2,2449.1 787.8,2447.4 789.3,2445.8 790.9,2444.2 792.4,2442.6 793.9,2440.9 795.4,2439.3 796.9,2437.7 798.5,2436.0 800.0,2434.4 801.5,2432.7 803.0,2431.1 804.5,2429.4 806.0,2427.8 807.5,2426.1 809.0,2424.4 810.5,2422.8 812.0,2421.1 813.5,2419.4 815.0,2417.8 816.5,2416.1 818.0,2414.4 819.5,2412.7 821.0,2411.1 822.5,2409.4 823.9,2407.7 825.4,2406.0 826.9,2404.3 828.4,2402.6 829.9,2400.9 831.4,2399.2 832.9,2397.6 834.4,2395.9 835.9,2394.2 837.4,2392.5 838.9,2390.8 840.4,2389.1 841.9,2387.4 843.4,2385.7 844.9,2384.0 846.4,2382.3 847.9,2380.6 849.4,2378.9 850.9,2377.2 852.5,2375.5 854.0,2373.8 855.5,2372.2 857.0,2370.5 858.6,2368.8 860.1,2367.1 861.6,2365.4 863.2,2363.8 864.8,2362.1 866.4,2360.5 868.0,2359.0 869.6,2357.5 871.3,2356.1 873.0,2354.7 874.7,2353.4 876.5,2352.2 878.4,2351.1 880.2,2350.1 882.2,2349.2 884.2,2348.4 886.2,2347.7 888.3,2347.2 890.4,2346.7 892.6,2346.4 894.8,2346.1 897.0,2345.9 899.2,2345.8 901.5,2345.8 903.7,2345.8 906.0,2345.8 908.3,2345.9 910.6,2346.0 912.9,2346.1 915.1,2346.2 917.4,2346.3 919.7,2346.4 922.0,2346.4 924.3,2346.5 926.5,2346.5 928.8,2346.6 931.0,2346.7 933.2,2346.8 935.4,2347.0 937.6,2347.3 939.8,2347.6 942.0,2348.0 944.1,2348.5 946.3,2349.1 948.4,2349.8 950.4,2350.6 952.4,2351.5 954.4,2352.4 956.3,2353.4 958.2,2354.5 960.1,2355.7 961.9,2356.9 963.7,2358.2 965.4,2359.5 967.1,2360.9 968.8,2362.4 970.5,2363.9 972.1,2365.4 973.7,2367.0 975.3,2368.6 976.8,2370.3 978.4,2372.0 979.9,2373.7 981.4,2375.5 982.9,2377.3 984.4,2379.1 985.8,2380.9 987.3,2382.7 988.7,2384.5 990.1,2386.4 991.5,2388.2 992.9,2390.0 994.4,2391.9 995.8,2393.7 997.2,2395.5 998.6,2397.3 1000.0,2399.1 1001.4,2400.9 1002.8,2402.6 1004.3,2404.4 1005.7,2406.1 1007.1,2407.8 1008.5,2409.5 1010.0,2411.2 1011.4,2412.9 1012.8,2414.6 1014.3,2416.3 1015.7,2417.9 1017.1,2419.6 1018.6,2421.2 1020.0,2422.9 1021.4,2424.5 1022.9,2426.2 1024.3,2427.8 1025.7,2429.5 1027.2,2431.1 1028.6,2432.7 1030.0,2434.4 1031.5,2436.0 1032.9,2437.6 1034.3,2439.3 1035.8,2440.9 1037.2,2442.6 1038.6,2444.3 1040.0,2445.9 1041.5,2447.6 1042.9,2449.3 1044.3,2451.0 1045.7,2452.7 1047.1,2454.4 1048.6,2456.1 1050.0,2457.9 1051.4,2459.6 1052.8,2461.3 1054.2,2463.1 1055.7,2464.8 1057.1,2466.6 1058.5,2468.3 1059.9,2470.1 1061.4,2471.8 1062.8,2473.6 1064.3,2475.3 1065.7,2477.1 1067.2,2478.8 1068.6,2480.6 1070.1,2482.3 1071.6,2484.0 1073.1,2485.7 1074.6,2487.4 1076.1,2489.1 1077.6,2490.8 1079.1,2492.5 1080.7,2494.1 1082.2,2495.8 1083.8,2497.4 1085.4,2499.0 1087.0,2500.6 1088.6,2502.2 1090.2,2503.7 1091.8,2505.2 1093.5,2506.8 1095.1,2508.2 1096.8,2509.7 1098.5,2511.2 1100.2,2512.6 1101.9,2514.0 1103.7,2515.5 1105.4,2516.9 1107.2,2518.2 1108.9,2519.6 1110.7,2521.0 1112.5,2522.3 1114.3,2523.7 1116.0,2525.0 1117.8,2526.3 1119.6,2527.6 1121.5,2528.9 1123.3,2530.2 1125.1,2531.5 1126.9,2532.8 1128.7,2534.1 1130.6,2535.4 1132.4,2536.7 1134.2,2537.9 1136.0,2539.2 1137.9,2540.5 1139.7,2541.8 1141.5,2543.1 1143.3,2544.4 1145.2,2545.7 1147.0,2547.0 1148.8,2548.3 1150.6,2549.6 1152.4,2550.9 1154.2,2552.2 1156.0,2553.5 1157.8,2554.9 1159.6,2556.2 1161.3,2557.6 1163.1,2559.0 1164.9,2560.3 1166.6,2561.7 1168.4,2563.1 1170.1,2564.6 1171.8,2566.0 1173.6,2567.4 1175.3,2568.8 1177.0,2570.3 1178.7,2571.7 1180.4,2573.2 1182.1,2574.6 1183.8,2576.1 1185.5,2577.5 1187.2,2579.0 1188.9,2580.4 1190.7,2581.9 1192.4,2583.3 1194.1,2584.8 1195.8,2586.2 1197.5,2587.7 1199.2,2589.1 1200.9,2590.6 1202.6,2592.0 1204.3,2593.4 1206.1,2594.9 1207.8,2596.3 1209.5,2597.7 1211.3,2599.1 1213.0,2600.5 1214.8,2601.9 1216.6,2603.2 1218.3,2604.6 1220.1,2605.9 1221.9,2607.2 1223.7,2608.6 1225.5,2609.8 1227.3,2611.1 1229.1,2612.4 1231.0,2613.6 1232.8,2614.8 1234.7,2616.0 1236.6,2617.2 1238.5,2618.4 1240.4,2619.5 1242.3,2620.6 1244.2,2621.7 1246.1,2622.8 1248.1,2623.8 1250.1,2624.8 1252.1,2625.8 1254.1,2626.8 1256.1,2627.7 1258.1,2628.6 1260.1,2629.5 1262.2,2630.4 1264.2,2631.3 1266.3,2632.2 1268.4,2633.0 1270.4,2633.8 1272.5,2634.6 1274.6,2635.4 1276.7,2636.2 1278.8,2637.0 1280.9,2637.8 1283.0,2638.6 1285.1,2639.3 1287.3,2640.1 1289.4,2640.9 1291.5,2641.6 1293.6,2642.4 1295.7,2643.1 1297.9,2643.9 1300.0,2644.6 1302.1,2645.4 1304.2,2646.2 1306.3,2646.9 1308.5,2647.7 1310.6,2648.5 1312.7,2649.3 1314.8,2650.1 1316.9,2650.9 1318.9,2651.7 1321.0,2652.6 1323.1,2653.4 1325.1,2654.3 1327.2,2655.2 1329.2,2656.1 1331.3,2657.0 1333.3,2658.0 1335.3,2658.9 1337.3,2659.9 1339.3,2660.9 1341.3,2661.9 1343.3,2662.9 1345.2,2664.0 1347.2,2665.0 1349.2,2666.1 1351.1,2667.2 1353.0,2668.3 1355.0,2669.4 1356.9,2670.5 1358.8,2671.6 1360.7,2672.8 1362.6,2673.9 1364.5,2675.1 1366.4,2676.3 1368.3,2677.5 1370.2,2678.6 1372.1,2679.9 1373.9,2681.1 1375.8,2682.3 1377.7,2683.5 1379.5,2684.8 1381.4,2686.0 1383.2,2687.3 1385.1,2688.5 1386.9,2689.8 1388.8,2691.1 1390.6,2692.4 1392.4,2693.7 1394.3,2695.0 1396.1,2696.3 1397.9,2697.6 1399.7,2698.9 1401.6,2700.2 1403.4,2701.5 1405.2,2702.8 1407.0,2704.1 1408.8,2705.4 1410.7,2706.7 1412.5,2708.1 1414.3,2709.4 1416.1,2710.7 1417.9,2712.0 1419.7,2713.4 1421.6,2714.7 1423.4,2716.0 1425.2,2717.3 1427.0,2718.6 1428.8,2719.9 1430.7,2721.2 1432.5,2722.5 1434.3,2723.8 1436.1,2725.1 1438.0,2726.4 1439.8,2727.7 1441.6,2729.0 1443.5,2730.3 1445.3,2731.6 1447.2,2732.8 1449.0,2734.1 1450.9,2735.3 1452.7,2736.6 1454.6,2737.8 1456.5,2739.0 1458.3,2740.2 1460.2,2741.5 1462.1,2742.7 1464.0,2743.8 1465.9,2745.0 1467.8,2746.2 1469.7,2747.3 1471.6,2748.5 1473.5,2749.6 1475.5,2750.7 1477.4,2751.8 1479.3,2752.9 1481.3,2754.0 1483.2,2755.1 1485.2,2756.1 1487.2,2757.2 1488.2,2757.7" fill="none" stroke="#0000ff" stroke-width="6.3" stroke-linecap="round" stroke-linejoin="round"/>
<path d="M290.3,2770.8L292.3,2769.8 294.2,2768.7 296.1,2767.6 298.0,2766.5 299.9,2765.4 301.9,2764.3 303.8,2763.2 305.7,2762.1 307.6,2761.0 309.5,2759.9 311.4,2758.8 313.3,2757.7 315.3,2756.6 317.2,2755.4 319.1,2754.3 321.0,2753.2 322.9,2752.0 324.8,2750.9 326.7,2749.8 328.6,2748.6 330.5,2747.5 332.4,2746.3 334.3,2745.2 336.2,2744.0 338.1,2742.9 340.0,2741.7 341.9,2740.6 343.8,2739.4 345.7,2738.3 347.6,2737.1 349.5,2735.9 351.4,2734.8 353.3,2733.6 355.2,2732.4 357.1,2731.3 359.0,2730.1 360.8,2728.9 362.7,2727.7 364.6,2726.6 366.5,2725.4 368.4,2724.2 370.3,2723.0 372.2,2721.9 374.0,2720.7 375.9,2719.5 377.8,2718.3 379.7,2717.1 381.5,2716.0 383.4,2714.8 385.3,2713.6 387.2,2712.4 389.0,2711.2 390.9,2710.1 392.8,2708.9 394.6,2707.7 396.5,2706.5 398.4,2705.4 400.3,2704.3 402.2,2703.1 404.1,2702.0 406.0,2701.0 407.9,2699.9 409.9,2698.9 411.9,2698.0 413.9,2697.0 415.9,2696.2 417.9,2695.3 419.9,2694.4 422.0,2693.6 424.0,2692.7 426.1,2691.8 428.1,2690.9 430.1,2690.0 432.1,2689.1 434.1,2688.2 436.1,2687.2 438.2,2686.2 440.2,2685.3 442.2,2684.3 444.1,2683.3 446.1,2682.3 448.1,2681.3 450.1,2680.4 452.1,2679.4 454.1,2678.4 456.1,2677.4 458.1,2676.4 460.0,2675.4 462.0,2674.4 464.0,2673.4 466.0,2672.4 467.9,2671.4 469.9,2670.4 471.9,2669.3 473.9,2668.3 475.8,2667.3 477.8,2666.3 479.7,2665.3 481.7,2664.3 483.7,2663.3 485.6,2662.2 487.6,2661.2 489.5,2660.2 491.5,2659.2 493.5,2658.1 495.4,2657.1 497.4,2656.1 499.3,2655.0 501.3,2654.0 503.2,2653.0 505.1,2651.9 507.1,2650.9 509.0,2649.8 511.0,2648.8 512.9,2647.7 514.8,2646.7 516.8,2645.6 518.7,2644.6 520.6,2643.5 522.6,2642.5 524.5,2641.4 526.4,2640.3 528.4,2639.3 530.3,2638.2 532.2,2637.1 534.1,2636.1 536.1,2635.0 538.0,2633.9 539.9,2632.8 541.8,2631.7 543.8,2630.7 545.7,2629.6 547.6,2628.5 549.5,2627.4 551.4,2626.3 553.3,2625.2 555.3,2624.1 557.2,2623.0 559.1,2621.9 561.0,2620.8 562.9,2619.7 564.8,2618.6 566.7,2617.5 568.6,2616.4 570.5,2615.3 572.4,2614.1 574.3,2613.0 576.2,2611.9 578.1,2610.8 580.0,2609.7 581.9,2608.5 583.8,2607.4 585.7,2606.3 587.6,2605.1 589.5,2604.0 591.4,2602.8 593.3,2601.7 595.2,2600.5 597.1,2599.4 599.0,2598.2 600.9,2597.1 602.8,2595.9 604.7,2594.8 606.6,2593.6 608.4,2592.4 610.3,2591.3 612.2,2590.1 614.1,2588.9 616.0,2587.7 617.9,2586.6 619.8,2585.4 621.6,2584.2 623.5,2583.0 625.4,2581.8 627.3,2580.6 629.1,2579.4 631.0,2578.2 632.9,2577.0 634.8,2575.8 636.6,2574.6 638.5,2573.4 640.4,2572.2 642.2,2571.0 644.1,2569.7 646.0,2568.5 647.8,2567.3 649.7,2566.0 651.5,2564.8 653.4,2563.6 655.2,2562.3 657.1,2561.1 658.9,2559.8 660.8,2558.6 662.6,2557.3 664.4,2556.1 666.3,2554.8 668.1,2553.5 669.9,2552.3 671.8,2551.0 673.6,2549.7 675.4,2548.4 677.2,2547.1 679.0,2545.8 680.8,2544.5 682.7,2543.3 684.5,2541.9 686.3,2540.6 688.1,2539.3 689.8,2538.0 691.6,2536.7 693.4,2535.4 695.2,2534.1 697.0,2532.7 698.8,2531.4 700.5,2530.1 702.3,2528.7 704.1,2527.4 705.8,2526.0 707.6,2524.7 709.3,2523.3 711.1,2521.9 712.8,2520.6 714.6,2519.2 716.3,2517.8 718.0,2516.4 719.8,2515.0 721.5,2513.7 723.2,2512.3 724.9,2510.9 726.6,2509.5 728.3,2508.0 730.0,2506.6 731.7,2505.2 733.4,2503.8 735.1,2502.4 736.8,2500.9 738.5,2499.5 740.1,2498.1 741.8,2496.6 743.4,2495.2 745.1,2493.7 746.7,2492.2 748.4,2490.8 750.0,2489.3 751.7,2487.8 753.3,2486.3 754.9,2484.8 756.5,2483.4 758.1,2481.9 759.7,2480.3 761.3,2478.8 762.9,2477.3 764.5,2475.8 766.1,2474.3 767.6,2472.8 769.2,2471.2 770.8,2469.7 772.3,2468.1 773.9,2466.6 775.4,2465.0 777.0,2463.5 778.5,2461.9 780.0,2460.3 781.6,2458.8 783.1,2457.2 784.6,2455.6 786.1,2454.0 787.6,2452.4 789.1,2450.8 790.6,2449.2 792.1,2447.6 793.6,2446.0 795.1,2444.4 796.6,2442.8 798.1,2441.2 799.6,2439.6 801.1,2437.9 802.6,2436.3 804.0,2434.7 805.5,2433.1 807.0,2431.4 808.5,2429.8 809.9,2428.1 811.4,2426.5 812.9,2424.8 814.4,2423.2 815.8,2421.5 817.3,2419.9 818.8,2418.2 820.3,2416.6 821.7,2414.9 823.2,2413.2 824.7,2411.6 826.2,2409.9 827.6,2408.3 829.1,2406.6 830.6,2404.9 832.1,2403.2 833.6,2401.6 835.1,2399.9 836.6,2398.2 838.0,2396.5 839.5,2394.9 841.0,2393.2 842.5,2391.5 844.0,2389.8 845.5,2388.1 847.0,2386.4 848.6,2384.8 850.1,2383.1 851.6,2381.4 853.1,2379.7 854.6,2378.0 856.2,2376.3 857.7,2374.7 859.3,2373.0 860.8,2371.3 862.4,2369.6 863.9,2368.0 865.5,2366.4 867.1,2364.8 868.7,2363.2 870.4,2361.7 872.0,2360.2 873.7,2358.8 875.4,2357.5 877.2,2356.3 879.0,2355.1 880.8,2354.0 882.6,2353.0 884.5,2352.1 886.4,2351.3 888.4,2350.6 890.4,2350.0 892.5,2349.6 894.6,2349.2 896.8,2349.0 899.0,2348.9 901.2,2348.9 903.5,2348.9 905.7,2349.0 908.0,2349.1 910.3,2349.2 912.6,2349.4 914.9,2349.5 917.2,2349.7 919.5,2349.8 921.8,2349.9 924.1,2350.0 926.3,2350.0 928.6,2350.1 930.8,2350.1 933.0,2350.2 935.1,2350.4 937.3,2350.6 939.4,2350.8 941.6,2351.2 943.6,2351.6 945.7,2352.2 947.8,2352.8 949.8,2353.6 951.7,2354.5 953.7,2355.5 955.6,2356.6 957.4,2357.8 959.2,2359.1 961.0,2360.5 962.8,2361.9 964.5,2363.4 966.2,2365.0 967.8,2366.6 969.5,2368.2 971.1,2369.9 972.6,2371.5 974.2,2373.2 975.7,2374.9 977.1,2376.6 978.6,2378.3 980.0,2380.1 981.5,2381.8 982.9,2383.5 984.2,2385.2 985.6,2387.0 987.0,2388.7 988.4,2390.4 989.7,2392.1 991.1,2393.9 992.4,2395.6 993.8,2397.3 995.1,2399.0 996.5,2400.7 997.8,2402.4 999.2,2404.1 1000.6,2405.8 1002.0,2407.5 1003.4,2409.2 1004.8,2410.9 1006.2,2412.6 1007.6,2414.2 1009.0,2415.9 1010.4,2417.6 1011.9,2419.3 1013.3,2420.9 1014.7,2422.6 1016.1,2424.3 1017.6,2425.9 1019.0,2427.6 1020.4,2429.3 1021.9,2430.9 1023.3,2432.6 1024.8,2434.3 1026.2,2436.0 1027.6,2437.6 1029.1,2439.3 1030.5,2441.0 1032.0,2442.7 1033.4,2444.4 1034.8,2446.0 1036.3,2447.7 1037.7,2449.4 1039.1,2451.1 1040.5,2452.8 1042.0,2454.6 1043.4,2456.3 1044.8,2458.0 1046.2,2459.7 1047.6,2461.5 1049.0,2463.2 1050.5,2464.9 1051.9,2466.7 1053.3,2468.4 1054.7,2470.1 1056.1,2471.9 1057.5,2473.6 1058.9,2475.3 1060.4,2477.1 1061.8,2478.8 1063.2,2480.5 1064.7,2482.2 1066.1,2483.9 1067.6,2485.6 1069.0,2487.3 1070.5,2489.0 1072.0,2490.6 1073.4,2492.3 1074.9,2494.0 1076.4,2495.6 1077.9,2497.2 1079.5,2498.8 1081.0,2500.4 1082.6,2502.0 1084.1,2503.5 1085.7,2505.1 1087.3,2506.6 1088.9,2508.1 1090.5,2509.6 1092.1,2511.1 1093.8,2512.6 1095.5,2514.0 1097.1,2515.4 1098.8,2516.8 1100.5,2518.2 1102.2,2519.6 1104.0,2521.0 1105.7,2522.3 1107.4,2523.7 1109.2,2525.0 1110.9,2526.3 1112.7,2527.7 1114.5,2529.0 1116.3,2530.3 1118.0,2531.6 1119.8,2532.9 1121.6,2534.2 1123.4,2535.4 1125.2,2536.7 1127.0,2538.0 1128.8,2539.3 1130.7,2540.5 1132.5,2541.8 1134.3,2543.1 1136.1,2544.4 1137.9,2545.6 1139.7,2546.9 1141.5,2548.2 1143.3,2549.5 1145.2,2550.8 1147.0,2552.1 1148.8,2553.4 1150.6,2554.7 1152.3,2556.0 1154.1,2557.3 1155.9,2558.6 1157.7,2560.0 1159.5,2561.3 1161.2,2562.7 1163.0,2564.1 1164.7,2565.4 1166.5,2566.8 1168.2,2568.2 1169.9,2569.6 1171.7,2571.0 1173.4,2572.4 1175.1,2573.9 1176.8,2575.3 1178.6,2576.7 1180.3,2578.1 1182.0,2579.6 1183.7,2581.0 1185.4,2582.4 1187.1,2583.8 1188.8,2585.3 1190.5,2586.7 1192.3,2588.1 1194.0,2589.6 1195.7,2591.0 1197.4,2592.4 1199.1,2593.8 1200.9,2595.2 1202.6,2596.6 1204.3,2598.0 1206.0,2599.4 1207.8,2600.7 1209.5,2602.1 1211.3,2603.5 1213.0,2604.8 1214.8,2606.1 1216.6,2607.5 1218.3,2608.8 1220.1,2610.1 1221.9,2611.3 1223.7,2612.6 1225.5,2613.9 1227.3,2615.1 1229.1,2616.3 1231.0,2617.5 1232.8,2618.7 1234.7,2619.9 1236.5,2621.0 1238.4,2622.1 1240.3,2623.2 1242.2,2624.3 1244.1,2625.4 1246.0,2626.4 1248.0,2627.4 1249.9,2628.4 1251.9,2629.4 1253.9,2630.4 1255.9,2631.3 1257.8,2632.2 1259.9,2633.1 1261.9,2634.0 1263.9,2634.9 1265.9,2635.7 1268.0,2636.6 1270.0,2637.4 1272.1,2638.2 1274.1,2639.0 1276.2,2639.8 1278.3,2640.6 1280.4,2641.4 1282.5,2642.1 1284.5,2642.9 1286.6,2643.6 1288.7,2644.4 1290.8,2645.1 1292.9,2645.9 1295.0,2646.6 1297.2,2647.3 1299.3,2648.1 1301.4,2648.8 1303.5,2649.5 1305.6,2650.3 1307.7,2651.0 1309.8,2651.7 1311.9,2652.5 1314.0,2653.2 1316.1,2654.0 1318.2,2654.7 1320.3,2655.5 1322.4,2656.3 1324.5,2657.1 1326.6,2657.9 1328.6,2658.7 1330.7,2659.5 1332.8,2660.3 1334.8,2661.1 1336.9,2662.0 1338.9,2662.8 1341.0,2663.7 1343.0,2664.6 1345.0,2665.5 1347.1,2666.3 1349.1,2667.3 1351.1,2668.2 1353.1,2669.1 1355.1,2670.0 1357.1,2671.0 1359.1,2671.9 1361.1,2672.9 1363.1,2673.8 1365.1,2674.8 1367.1,2675.8 1369.1,2676.8 1371.0,2677.8 1373.0,2678.8 1375.0,2679.8 1376.9,2680.8 1378.9,2681.9 1380.8,2682.9 1382.8,2683.9 1384.7,2685.0 1386.7,2686.0 1388.6,2687.1 1390.6,2688.2 1392.5,2689.2 1394.4,2690.3 1396.4,2691.4 1398.3,2692.5 1400.2,2693.6 1402.1,2694.7 1404.0,2695.8 1406.0,2696.9 1407.9,2698.0 1409.8,2699.1 1411.7,2700.3 1413.6,2701.4 1415.5,2702.5 1417.4,2703.7 1419.3,2704.8 1421.2,2706.0 1423.1,2707.1 1425.0,2708.2 1426.9,2709.4 1428.8,2710.6 1430.6,2711.7 1432.5,2712.9 1434.4,2714.0 1436.3,2715.2 1438.2,2716.4 1440.1,2717.5 1442.0,2718.7 1443.8,2719.9 1445.7,2721.1 1447.6,2722.2 1449.5,2723.4 1451.4,2724.6 1453.2,2725.8 1455.1,2726.9 1457.0,2728.1 1458.9,2729.3 1460.7,2730.5 1462.6,2731.6 1464.5,2732.8 1466.4,2734.0 1468.3,2735.2 1470.1,2736.3 1472.0,2737.5 1473.9,2738.7 1475.8,2739.9 1477.7,2741.0 1479.5,2742.2 1481.4,2743.4 1483.3,2744.5 1485.2,2745.7 1487.1,2746.9 1488.0,2747.4" fill="none" stroke="#ff0000" stroke-width="6.3" stroke-linecap="round" stroke-linejoin="round"/>
<line x1="424.0" y1="2784.0" x2="424.0" y2="2322.0" stroke="#000" stroke-width="3.2" stroke-dasharray="10 4.57"/>
<line x1="883.6" y1="2784.0" x2="883.6" y2="2322.0" stroke="#000" stroke-width="3.1" stroke-dasharray="10 4.57"/>
<line x1="962.7" y1="2784.0" x2="962.7" y2="2322.0" stroke="#000" stroke-width="2.3" stroke-dasharray="10 4.57"/>
<line x1="1355.1" y1="2784.0" x2="1355.1" y2="2322.0" stroke="#000" stroke-width="3.2" stroke-dasharray="10 4.57"/>
<rect x="224.5" y="2322.0" width="1330.1" height="462.0" fill="none" stroke="#c6c6c6" stroke-width="1.8"/>
<line x1="390.8" y1="2772.0" x2="390.8" y2="2784.0" stroke="#000" stroke-width="2"/>
<line x1="557.0" y1="2772.0" x2="557.0" y2="2784.0" stroke="#000" stroke-width="2"/>
<line x1="723.3" y1="2772.0" x2="723.3" y2="2784.0" stroke="#000" stroke-width="2"/>
<line x1="889.5" y1="2772.0" x2="889.5" y2="2784.0" stroke="#000" stroke-width="2"/>
<line x1="1055.8" y1="2772.0" x2="1055.8" y2="2784.0" stroke="#000" stroke-width="2"/>
<line x1="1222.1" y1="2772.0" x2="1222.1" y2="2784.0" stroke="#000" stroke-width="2"/>
<line x1="1388.3" y1="2772.0" x2="1388.3" y2="2784.0" stroke="#000" stroke-width="2"/>
<line x1="224.5" y1="2341.0" x2="236.5" y2="2341.0" stroke="#000" stroke-width="2"/>
<line x1="224.5" y1="2582.0" x2="236.5" y2="2582.0" stroke="#000" stroke-width="2"/>
<line x1="224.5" y1="2750.5" x2="236.5" y2="2750.5" stroke="#000" stroke-width="1.8"/>
<line x1="224.5" y1="2708.0" x2="236.5" y2="2708.0" stroke="#000" stroke-width="1.8"/>
<line x1="224.5" y1="2677.9" x2="236.5" y2="2677.9" stroke="#000" stroke-width="1.8"/>
<line x1="224.5" y1="2654.5" x2="236.5" y2="2654.5" stroke="#000" stroke-width="1.8"/>
<line x1="224.5" y1="2635.5" x2="236.5" y2="2635.5" stroke="#000" stroke-width="1.8"/>
<line x1="224.5" y1="2619.3" x2="236.5" y2="2619.3" stroke="#000" stroke-width="1.8"/>
<line x1="224.5" y1="2605.4" x2="236.5" y2="2605.4" stroke="#000" stroke-width="1.8"/>
<line x1="224.5" y1="2593.0" x2="236.5" y2="2593.0" stroke="#000" stroke-width="1.8"/>
<line x1="224.5" y1="2509.5" x2="236.5" y2="2509.5" stroke="#000" stroke-width="1.8"/>
<line x1="224.5" y1="2467.0" x2="236.5" y2="2467.0" stroke="#000" stroke-width="1.8"/>
<line x1="224.5" y1="2436.9" x2="236.5" y2="2436.9" stroke="#000" stroke-width="1.8"/>
<line x1="224.5" y1="2413.5" x2="236.5" y2="2413.5" stroke="#000" stroke-width="1.8"/>
<line x1="224.5" y1="2394.5" x2="236.5" y2="2394.5" stroke="#000" stroke-width="1.8"/>
<line x1="224.5" y1="2378.3" x2="236.5" y2="2378.3" stroke="#000" stroke-width="1.8"/>
<line x1="224.5" y1="2364.4" x2="236.5" y2="2364.4" stroke="#000" stroke-width="1.8"/>
<line x1="224.5" y1="2352.0" x2="236.5" y2="2352.0" stroke="#000" stroke-width="1.8"/>
<text x="224.5" y="2824.3" text-anchor="middle" class="t">−100</text>
<text x="390.8" y="2824.3" text-anchor="middle" class="t">−75</text>
<text x="557.0" y="2824.3" text-anchor="middle" class="t">−50</text>
<text x="723.3" y="2824.3" text-anchor="middle" class="t">−25</text>
<text x="889.5" y="2824.3" text-anchor="middle" class="t">0</text>
<text x="1055.8" y="2824.3" text-anchor="middle" class="t">25</text>
<text x="1222.1" y="2824.3" text-anchor="middle" class="t">50</text>
<text x="1388.3" y="2824.3" text-anchor="middle" class="t">75</text>
<text x="1554.6" y="2824.3" text-anchor="middle" class="t">100</text>
<text x="148" y="2365" class="t">10</text>
<text x="200" y="2332.5" class="t" style="font-size:32px">0</text>
<text x="132" y="2606.5" class="t">10</text>
<text x="184.5" y="2573.5" class="t" style="font-size:32px">−1</text>
<text transform="translate(95,2537.1) rotate(-90)" x="0" y="0" class="t" style="font-size:47.6px">Current density (mA/cm</text>
<text transform="translate(75.6,2036.2) rotate(-90)" x="0" y="0" class="t" style="font-size:35px">2</text>
<text transform="translate(95,2012.4) rotate(-90)" x="0" y="0" class="t" style="font-size:47.6px">)</text>
<text x="774.5" y="2915.0" class="t">Angle (</text>
<circle cx="936.2" cy="2887.2" r="3.9" fill="none" stroke="#262626" stroke-width="1.9"/>
<text x="950" y="2915.0" class="t">)</text>
<text x="574.7" y="3039.6" class="cp" font-size="87">(</text>
<text x="601.2" y="3039.6" class="cp" font-size="85" font-weight="bold">b</text>
<text x="654.2" y="3039.6" class="cp" font-size="87">)</text>
<text x="694.9" y="3039.6" class="cp" font-size="70" textLength="115" lengthAdjust="spacingAndGlyphs">0.66</text>
<text x="828.6" y="3039.6" class="cp" font-size="70">A,</text>
<text x="913.1" y="3039.6" class="cp" font-size="70" textLength="98" lengthAdjust="spacingAndGlyphs">250</text>
<text x="1025.1" y="3039.6" class="cp" font-size="70">V</text>
</svg>
</body></html>
